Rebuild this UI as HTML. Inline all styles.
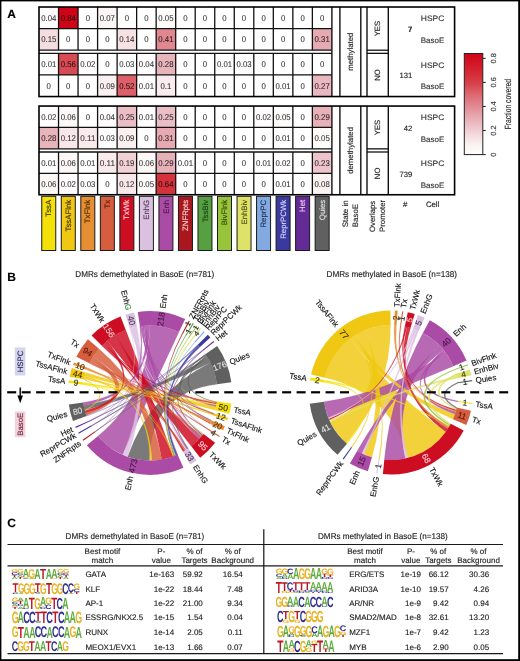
<!DOCTYPE html>
<html><head><meta charset="utf-8"><style>
html,body{margin:0;padding:0;background:#fff;}
svg{display:block;will-change:transform;}
</style></head><body>
<svg width="520" height="661" viewBox="0 0 520 661" font-family='"Liberation Sans", sans-serif' text-rendering="geometricPrecision">
<rect x="0" y="0" width="520" height="661" fill="#000"/>
<rect x="1.4" y="1.4" width="516.8" height="657.8" fill="#fff"/>
<text x="7.3" y="17.6" font-size="12" font-weight="bold" fill="#000" stroke="#000" stroke-width="0.22" stroke-opacity="0.6">A</text>
<rect x="39.00" y="7.00" width="19.53" height="21.60" fill="rgb(254,252,252)"/>
<text x="48.76" y="20.80" font-size="8.4" text-anchor="middle" fill="#000" fill-opacity="0.8" stroke="#000" stroke-opacity="0.35" stroke-width="0.2" textLength="15.20" lengthAdjust="spacingAndGlyphs">0.04</text>
<rect x="58.53" y="7.00" width="19.53" height="21.60" fill="rgb(208,4,24)"/>
<text x="68.29" y="20.80" font-size="8.4" text-anchor="middle" fill="#000" fill-opacity="0.8" stroke="#000" stroke-opacity="0.35" stroke-width="0.2" textLength="15.20" lengthAdjust="spacingAndGlyphs">0.84</text>
<text x="87.82" y="20.80" font-size="8.4" text-anchor="middle" fill="#000" fill-opacity="0.8" stroke="#000" stroke-opacity="0.35" stroke-width="0.2" textLength="4.34" lengthAdjust="spacingAndGlyphs">0</text>
<rect x="97.58" y="7.00" width="19.53" height="21.60" fill="rgb(252,245,246)"/>
<text x="107.34" y="20.80" font-size="8.4" text-anchor="middle" fill="#000" fill-opacity="0.8" stroke="#000" stroke-opacity="0.35" stroke-width="0.2" textLength="15.20" lengthAdjust="spacingAndGlyphs">0.07</text>
<text x="126.87" y="20.80" font-size="8.4" text-anchor="middle" fill="#000" fill-opacity="0.8" stroke="#000" stroke-opacity="0.35" stroke-width="0.2" textLength="4.34" lengthAdjust="spacingAndGlyphs">0</text>
<text x="146.40" y="20.80" font-size="8.4" text-anchor="middle" fill="#000" fill-opacity="0.8" stroke="#000" stroke-opacity="0.35" stroke-width="0.2" textLength="4.34" lengthAdjust="spacingAndGlyphs">0</text>
<rect x="156.16" y="7.00" width="19.53" height="21.60" fill="rgb(254,251,251)"/>
<text x="165.92" y="20.80" font-size="8.4" text-anchor="middle" fill="#000" fill-opacity="0.8" stroke="#000" stroke-opacity="0.35" stroke-width="0.2" textLength="15.20" lengthAdjust="spacingAndGlyphs">0.05</text>
<text x="185.45" y="20.80" font-size="8.4" text-anchor="middle" fill="#000" fill-opacity="0.8" stroke="#000" stroke-opacity="0.35" stroke-width="0.2" textLength="4.34" lengthAdjust="spacingAndGlyphs">0</text>
<text x="204.98" y="20.80" font-size="8.4" text-anchor="middle" fill="#000" fill-opacity="0.8" stroke="#000" stroke-opacity="0.35" stroke-width="0.2" textLength="4.34" lengthAdjust="spacingAndGlyphs">0</text>
<text x="224.50" y="20.80" font-size="8.4" text-anchor="middle" fill="#000" fill-opacity="0.8" stroke="#000" stroke-opacity="0.35" stroke-width="0.2" textLength="4.34" lengthAdjust="spacingAndGlyphs">0</text>
<text x="244.03" y="20.80" font-size="8.4" text-anchor="middle" fill="#000" fill-opacity="0.8" stroke="#000" stroke-opacity="0.35" stroke-width="0.2" textLength="4.34" lengthAdjust="spacingAndGlyphs">0</text>
<text x="263.56" y="20.80" font-size="8.4" text-anchor="middle" fill="#000" fill-opacity="0.8" stroke="#000" stroke-opacity="0.35" stroke-width="0.2" textLength="4.34" lengthAdjust="spacingAndGlyphs">0</text>
<text x="283.08" y="20.80" font-size="8.4" text-anchor="middle" fill="#000" fill-opacity="0.8" stroke="#000" stroke-opacity="0.35" stroke-width="0.2" textLength="4.34" lengthAdjust="spacingAndGlyphs">0</text>
<text x="302.61" y="20.80" font-size="8.4" text-anchor="middle" fill="#000" fill-opacity="0.8" stroke="#000" stroke-opacity="0.35" stroke-width="0.2" textLength="4.34" lengthAdjust="spacingAndGlyphs">0</text>
<text x="322.14" y="20.80" font-size="8.4" text-anchor="middle" fill="#000" fill-opacity="0.8" stroke="#000" stroke-opacity="0.35" stroke-width="0.2" textLength="4.34" lengthAdjust="spacingAndGlyphs">0</text>
<rect x="39.00" y="28.60" width="19.53" height="21.60" fill="rgb(245,222,226)"/>
<text x="48.76" y="42.40" font-size="8.4" text-anchor="middle" fill="#000" fill-opacity="0.8" stroke="#000" stroke-opacity="0.35" stroke-width="0.2" textLength="15.20" lengthAdjust="spacingAndGlyphs">0.15</text>
<text x="68.29" y="42.40" font-size="8.4" text-anchor="middle" fill="#000" fill-opacity="0.8" stroke="#000" stroke-opacity="0.35" stroke-width="0.2" textLength="4.34" lengthAdjust="spacingAndGlyphs">0</text>
<text x="87.82" y="42.40" font-size="8.4" text-anchor="middle" fill="#000" fill-opacity="0.8" stroke="#000" stroke-opacity="0.35" stroke-width="0.2" textLength="4.34" lengthAdjust="spacingAndGlyphs">0</text>
<text x="107.34" y="42.40" font-size="8.4" text-anchor="middle" fill="#000" fill-opacity="0.8" stroke="#000" stroke-opacity="0.35" stroke-width="0.2" textLength="4.34" lengthAdjust="spacingAndGlyphs">0</text>
<rect x="117.11" y="28.60" width="19.53" height="21.60" fill="rgb(246,225,228)"/>
<text x="126.87" y="42.40" font-size="8.4" text-anchor="middle" fill="#000" fill-opacity="0.8" stroke="#000" stroke-opacity="0.35" stroke-width="0.2" textLength="15.20" lengthAdjust="spacingAndGlyphs">0.14</text>
<text x="146.40" y="42.40" font-size="8.4" text-anchor="middle" fill="#000" fill-opacity="0.8" stroke="#000" stroke-opacity="0.35" stroke-width="0.2" textLength="4.34" lengthAdjust="spacingAndGlyphs">0</text>
<rect x="156.16" y="28.60" width="19.53" height="21.60" fill="rgb(225,135,145)"/>
<text x="165.92" y="42.40" font-size="8.4" text-anchor="middle" fill="#000" fill-opacity="0.8" stroke="#000" stroke-opacity="0.35" stroke-width="0.2" textLength="15.20" lengthAdjust="spacingAndGlyphs">0.41</text>
<text x="185.45" y="42.40" font-size="8.4" text-anchor="middle" fill="#000" fill-opacity="0.8" stroke="#000" stroke-opacity="0.35" stroke-width="0.2" textLength="4.34" lengthAdjust="spacingAndGlyphs">0</text>
<text x="204.98" y="42.40" font-size="8.4" text-anchor="middle" fill="#000" fill-opacity="0.8" stroke="#000" stroke-opacity="0.35" stroke-width="0.2" textLength="4.34" lengthAdjust="spacingAndGlyphs">0</text>
<text x="224.50" y="42.40" font-size="8.4" text-anchor="middle" fill="#000" fill-opacity="0.8" stroke="#000" stroke-opacity="0.35" stroke-width="0.2" textLength="4.34" lengthAdjust="spacingAndGlyphs">0</text>
<text x="244.03" y="42.40" font-size="8.4" text-anchor="middle" fill="#000" fill-opacity="0.8" stroke="#000" stroke-opacity="0.35" stroke-width="0.2" textLength="4.34" lengthAdjust="spacingAndGlyphs">0</text>
<text x="263.56" y="42.40" font-size="8.4" text-anchor="middle" fill="#000" fill-opacity="0.8" stroke="#000" stroke-opacity="0.35" stroke-width="0.2" textLength="4.34" lengthAdjust="spacingAndGlyphs">0</text>
<text x="283.08" y="42.40" font-size="8.4" text-anchor="middle" fill="#000" fill-opacity="0.8" stroke="#000" stroke-opacity="0.35" stroke-width="0.2" textLength="4.34" lengthAdjust="spacingAndGlyphs">0</text>
<text x="302.61" y="42.40" font-size="8.4" text-anchor="middle" fill="#000" fill-opacity="0.8" stroke="#000" stroke-opacity="0.35" stroke-width="0.2" textLength="4.34" lengthAdjust="spacingAndGlyphs">0</text>
<rect x="312.37" y="28.60" width="19.53" height="21.60" fill="rgb(230,170,178)"/>
<text x="322.14" y="42.40" font-size="8.4" text-anchor="middle" fill="#000" fill-opacity="0.8" stroke="#000" stroke-opacity="0.35" stroke-width="0.2" textLength="15.20" lengthAdjust="spacingAndGlyphs">0.31</text>
<rect x="39.00" y="53.35" width="19.53" height="21.60" fill="rgb(255,254,254)"/>
<text x="48.76" y="67.15" font-size="8.4" text-anchor="middle" fill="#000" fill-opacity="0.8" stroke="#000" stroke-opacity="0.35" stroke-width="0.2" textLength="15.20" lengthAdjust="spacingAndGlyphs">0.01</text>
<rect x="58.53" y="53.35" width="19.53" height="21.60" fill="rgb(216,75,85)"/>
<text x="68.29" y="67.15" font-size="8.4" text-anchor="middle" fill="#000" fill-opacity="0.8" stroke="#000" stroke-opacity="0.35" stroke-width="0.2" textLength="15.20" lengthAdjust="spacingAndGlyphs">0.56</text>
<rect x="78.05" y="53.35" width="19.53" height="21.60" fill="rgb(255,253,253)"/>
<text x="87.82" y="67.15" font-size="8.4" text-anchor="middle" fill="#000" fill-opacity="0.8" stroke="#000" stroke-opacity="0.35" stroke-width="0.2" textLength="15.20" lengthAdjust="spacingAndGlyphs">0.02</text>
<text x="107.34" y="67.15" font-size="8.4" text-anchor="middle" fill="#000" fill-opacity="0.8" stroke="#000" stroke-opacity="0.35" stroke-width="0.2" textLength="4.34" lengthAdjust="spacingAndGlyphs">0</text>
<rect x="117.11" y="53.35" width="19.53" height="21.60" fill="rgb(254,253,253)"/>
<text x="126.87" y="67.15" font-size="8.4" text-anchor="middle" fill="#000" fill-opacity="0.8" stroke="#000" stroke-opacity="0.35" stroke-width="0.2" textLength="15.20" lengthAdjust="spacingAndGlyphs">0.03</text>
<rect x="136.63" y="53.35" width="19.53" height="21.60" fill="rgb(254,252,252)"/>
<text x="146.40" y="67.15" font-size="8.4" text-anchor="middle" fill="#000" fill-opacity="0.8" stroke="#000" stroke-opacity="0.35" stroke-width="0.2" textLength="15.20" lengthAdjust="spacingAndGlyphs">0.04</text>
<rect x="156.16" y="53.35" width="19.53" height="21.60" fill="rgb(232,180,188)"/>
<text x="165.92" y="67.15" font-size="8.4" text-anchor="middle" fill="#000" fill-opacity="0.8" stroke="#000" stroke-opacity="0.35" stroke-width="0.2" textLength="15.20" lengthAdjust="spacingAndGlyphs">0.28</text>
<text x="185.45" y="67.15" font-size="8.4" text-anchor="middle" fill="#000" fill-opacity="0.8" stroke="#000" stroke-opacity="0.35" stroke-width="0.2" textLength="4.34" lengthAdjust="spacingAndGlyphs">0</text>
<text x="204.98" y="67.15" font-size="8.4" text-anchor="middle" fill="#000" fill-opacity="0.8" stroke="#000" stroke-opacity="0.35" stroke-width="0.2" textLength="4.34" lengthAdjust="spacingAndGlyphs">0</text>
<rect x="214.74" y="53.35" width="19.53" height="21.60" fill="rgb(255,254,254)"/>
<text x="224.50" y="67.15" font-size="8.4" text-anchor="middle" fill="#000" fill-opacity="0.8" stroke="#000" stroke-opacity="0.35" stroke-width="0.2" textLength="15.20" lengthAdjust="spacingAndGlyphs">0.01</text>
<rect x="234.27" y="53.35" width="19.53" height="21.60" fill="rgb(254,253,253)"/>
<text x="244.03" y="67.15" font-size="8.4" text-anchor="middle" fill="#000" fill-opacity="0.8" stroke="#000" stroke-opacity="0.35" stroke-width="0.2" textLength="15.20" lengthAdjust="spacingAndGlyphs">0.03</text>
<text x="263.56" y="67.15" font-size="8.4" text-anchor="middle" fill="#000" fill-opacity="0.8" stroke="#000" stroke-opacity="0.35" stroke-width="0.2" textLength="4.34" lengthAdjust="spacingAndGlyphs">0</text>
<text x="283.08" y="67.15" font-size="8.4" text-anchor="middle" fill="#000" fill-opacity="0.8" stroke="#000" stroke-opacity="0.35" stroke-width="0.2" textLength="4.34" lengthAdjust="spacingAndGlyphs">0</text>
<text x="302.61" y="67.15" font-size="8.4" text-anchor="middle" fill="#000" fill-opacity="0.8" stroke="#000" stroke-opacity="0.35" stroke-width="0.2" textLength="4.34" lengthAdjust="spacingAndGlyphs">0</text>
<text x="322.14" y="67.15" font-size="8.4" text-anchor="middle" fill="#000" fill-opacity="0.8" stroke="#000" stroke-opacity="0.35" stroke-width="0.2" textLength="4.34" lengthAdjust="spacingAndGlyphs">0</text>
<text x="48.76" y="88.75" font-size="8.4" text-anchor="middle" fill="#000" fill-opacity="0.8" stroke="#000" stroke-opacity="0.35" stroke-width="0.2" textLength="4.34" lengthAdjust="spacingAndGlyphs">0</text>
<text x="68.29" y="88.75" font-size="8.4" text-anchor="middle" fill="#000" fill-opacity="0.8" stroke="#000" stroke-opacity="0.35" stroke-width="0.2" textLength="4.34" lengthAdjust="spacingAndGlyphs">0</text>
<text x="87.82" y="88.75" font-size="8.4" text-anchor="middle" fill="#000" fill-opacity="0.8" stroke="#000" stroke-opacity="0.35" stroke-width="0.2" textLength="4.34" lengthAdjust="spacingAndGlyphs">0</text>
<rect x="97.58" y="74.95" width="19.53" height="21.60" fill="rgb(250,239,241)"/>
<text x="107.34" y="88.75" font-size="8.4" text-anchor="middle" fill="#000" fill-opacity="0.8" stroke="#000" stroke-opacity="0.35" stroke-width="0.2" textLength="15.20" lengthAdjust="spacingAndGlyphs">0.09</text>
<rect x="117.11" y="74.95" width="19.53" height="21.60" fill="rgb(220,95,105)"/>
<text x="126.87" y="88.75" font-size="8.4" text-anchor="middle" fill="#000" fill-opacity="0.8" stroke="#000" stroke-opacity="0.35" stroke-width="0.2" textLength="15.20" lengthAdjust="spacingAndGlyphs">0.52</text>
<rect x="136.63" y="74.95" width="19.53" height="21.60" fill="rgb(255,254,254)"/>
<text x="146.40" y="88.75" font-size="8.4" text-anchor="middle" fill="#000" fill-opacity="0.8" stroke="#000" stroke-opacity="0.35" stroke-width="0.2" textLength="15.20" lengthAdjust="spacingAndGlyphs">0.01</text>
<rect x="156.16" y="74.95" width="19.53" height="21.60" fill="rgb(250,236,238)"/>
<text x="165.92" y="88.75" font-size="8.4" text-anchor="middle" fill="#000" fill-opacity="0.8" stroke="#000" stroke-opacity="0.35" stroke-width="0.2" textLength="10.86" lengthAdjust="spacingAndGlyphs">0.1</text>
<text x="185.45" y="88.75" font-size="8.4" text-anchor="middle" fill="#000" fill-opacity="0.8" stroke="#000" stroke-opacity="0.35" stroke-width="0.2" textLength="4.34" lengthAdjust="spacingAndGlyphs">0</text>
<text x="204.98" y="88.75" font-size="8.4" text-anchor="middle" fill="#000" fill-opacity="0.8" stroke="#000" stroke-opacity="0.35" stroke-width="0.2" textLength="4.34" lengthAdjust="spacingAndGlyphs">0</text>
<text x="224.50" y="88.75" font-size="8.4" text-anchor="middle" fill="#000" fill-opacity="0.8" stroke="#000" stroke-opacity="0.35" stroke-width="0.2" textLength="4.34" lengthAdjust="spacingAndGlyphs">0</text>
<text x="244.03" y="88.75" font-size="8.4" text-anchor="middle" fill="#000" fill-opacity="0.8" stroke="#000" stroke-opacity="0.35" stroke-width="0.2" textLength="4.34" lengthAdjust="spacingAndGlyphs">0</text>
<text x="263.56" y="88.75" font-size="8.4" text-anchor="middle" fill="#000" fill-opacity="0.8" stroke="#000" stroke-opacity="0.35" stroke-width="0.2" textLength="4.34" lengthAdjust="spacingAndGlyphs">0</text>
<rect x="273.32" y="74.95" width="19.53" height="21.60" fill="rgb(255,254,254)"/>
<text x="283.08" y="88.75" font-size="8.4" text-anchor="middle" fill="#000" fill-opacity="0.8" stroke="#000" stroke-opacity="0.35" stroke-width="0.2" textLength="15.20" lengthAdjust="spacingAndGlyphs">0.01</text>
<text x="302.61" y="88.75" font-size="8.4" text-anchor="middle" fill="#000" fill-opacity="0.8" stroke="#000" stroke-opacity="0.35" stroke-width="0.2" textLength="4.34" lengthAdjust="spacingAndGlyphs">0</text>
<rect x="312.37" y="74.95" width="19.53" height="21.60" fill="rgb(233,183,191)"/>
<text x="322.14" y="88.75" font-size="8.4" text-anchor="middle" fill="#000" fill-opacity="0.8" stroke="#000" stroke-opacity="0.35" stroke-width="0.2" textLength="15.20" lengthAdjust="spacingAndGlyphs">0.27</text>
<rect x="39.00" y="50.20" width="292.90" height="3.15" fill="#fff"/>
<rect x="367.00" y="50.20" width="21.30" height="3.15" fill="#fff"/>
<line x1="58.53" y1="7.00" x2="58.53" y2="50.20" stroke="#111" stroke-width="1.3"/>
<line x1="58.53" y1="53.35" x2="58.53" y2="96.55" stroke="#111" stroke-width="1.3"/>
<line x1="78.05" y1="7.00" x2="78.05" y2="50.20" stroke="#111" stroke-width="1.3"/>
<line x1="78.05" y1="53.35" x2="78.05" y2="96.55" stroke="#111" stroke-width="1.3"/>
<line x1="97.58" y1="7.00" x2="97.58" y2="50.20" stroke="#111" stroke-width="1.3"/>
<line x1="97.58" y1="53.35" x2="97.58" y2="96.55" stroke="#111" stroke-width="1.3"/>
<line x1="117.11" y1="7.00" x2="117.11" y2="50.20" stroke="#111" stroke-width="1.3"/>
<line x1="117.11" y1="53.35" x2="117.11" y2="96.55" stroke="#111" stroke-width="1.3"/>
<line x1="136.63" y1="7.00" x2="136.63" y2="50.20" stroke="#111" stroke-width="1.3"/>
<line x1="136.63" y1="53.35" x2="136.63" y2="96.55" stroke="#111" stroke-width="1.3"/>
<line x1="156.16" y1="7.00" x2="156.16" y2="50.20" stroke="#111" stroke-width="1.3"/>
<line x1="156.16" y1="53.35" x2="156.16" y2="96.55" stroke="#111" stroke-width="1.3"/>
<line x1="175.69" y1="7.00" x2="175.69" y2="50.20" stroke="#111" stroke-width="1.3"/>
<line x1="175.69" y1="53.35" x2="175.69" y2="96.55" stroke="#111" stroke-width="1.3"/>
<line x1="195.21" y1="7.00" x2="195.21" y2="50.20" stroke="#111" stroke-width="1.3"/>
<line x1="195.21" y1="53.35" x2="195.21" y2="96.55" stroke="#111" stroke-width="1.3"/>
<line x1="214.74" y1="7.00" x2="214.74" y2="50.20" stroke="#111" stroke-width="1.3"/>
<line x1="214.74" y1="53.35" x2="214.74" y2="96.55" stroke="#111" stroke-width="1.3"/>
<line x1="234.27" y1="7.00" x2="234.27" y2="50.20" stroke="#111" stroke-width="1.3"/>
<line x1="234.27" y1="53.35" x2="234.27" y2="96.55" stroke="#111" stroke-width="1.3"/>
<line x1="253.79" y1="7.00" x2="253.79" y2="50.20" stroke="#111" stroke-width="1.3"/>
<line x1="253.79" y1="53.35" x2="253.79" y2="96.55" stroke="#111" stroke-width="1.3"/>
<line x1="273.32" y1="7.00" x2="273.32" y2="50.20" stroke="#111" stroke-width="1.3"/>
<line x1="273.32" y1="53.35" x2="273.32" y2="96.55" stroke="#111" stroke-width="1.3"/>
<line x1="292.85" y1="7.00" x2="292.85" y2="50.20" stroke="#111" stroke-width="1.3"/>
<line x1="292.85" y1="53.35" x2="292.85" y2="96.55" stroke="#111" stroke-width="1.3"/>
<line x1="312.37" y1="7.00" x2="312.37" y2="50.20" stroke="#111" stroke-width="1.3"/>
<line x1="312.37" y1="53.35" x2="312.37" y2="96.55" stroke="#111" stroke-width="1.3"/>
<line x1="39.00" y1="28.60" x2="331.90" y2="28.60" stroke="#111" stroke-width="1.3"/>
<line x1="39.00" y1="50.20" x2="331.90" y2="50.20" stroke="#111" stroke-width="1.3"/>
<line x1="39.00" y1="53.35" x2="331.90" y2="53.35" stroke="#111" stroke-width="1.3"/>
<line x1="39.00" y1="74.95" x2="331.90" y2="74.95" stroke="#111" stroke-width="1.3"/>
<line x1="367.00" y1="50.20" x2="388.30" y2="50.20" stroke="#111" stroke-width="1.3"/>
<line x1="367.00" y1="53.35" x2="388.30" y2="53.35" stroke="#111" stroke-width="1.3"/>
<line x1="331.90" y1="7.00" x2="331.90" y2="96.55" stroke="#111" stroke-width="1.4"/>
<line x1="339.90" y1="7.00" x2="339.90" y2="96.55" stroke="#111" stroke-width="1.4"/>
<line x1="360.80" y1="7.00" x2="360.80" y2="96.55" stroke="#111" stroke-width="1.4"/>
<line x1="367.00" y1="7.00" x2="367.00" y2="96.55" stroke="#111" stroke-width="1.4"/>
<line x1="388.30" y1="7.00" x2="388.30" y2="96.55" stroke="#111" stroke-width="1.4"/>
<rect x="39.00" y="7.00" width="415.60" height="89.55" fill="none" stroke="#000" stroke-width="1.6"/>
<text transform="translate(352.95,51.77) rotate(-90)" font-size="7.8" text-anchor="middle" fill="#222" stroke="#222" stroke-width="0.22" stroke-opacity="0.6">methylated</text>
<text transform="translate(380.45,28.60) rotate(-90)" font-size="7.7" text-anchor="middle" fill="#222" stroke="#222" stroke-width="0.22" stroke-opacity="0.6">YES</text>
<text transform="translate(380.45,74.95) rotate(-90)" font-size="7.7" text-anchor="middle" fill="#222" stroke="#222" stroke-width="0.22" stroke-opacity="0.6">NO</text>
<text x="412.3" y="31.80" font-size="7.7" text-anchor="end" fill="#222" font-weight="bold" stroke="#222" stroke-width="0.22" stroke-opacity="0.6">7</text>
<text x="412.3" y="78.15" font-size="7.7" text-anchor="end" fill="#222" stroke="#222" stroke-width="0.22" stroke-opacity="0.6">131</text>
<text x="420.8" y="21.40" font-size="7.9" fill="#333" textLength="23.5" lengthAdjust="spacingAndGlyphs" stroke="#333" stroke-width="0.22" stroke-opacity="0.6">HSPC</text>
<text x="420.8" y="43.00" font-size="7.9" fill="#333" textLength="23.5" lengthAdjust="spacingAndGlyphs" stroke="#333" stroke-width="0.22" stroke-opacity="0.6">BasoE</text>
<text x="420.8" y="67.75" font-size="7.9" fill="#333" textLength="23.5" lengthAdjust="spacingAndGlyphs" stroke="#333" stroke-width="0.22" stroke-opacity="0.6">HSPC</text>
<text x="420.8" y="89.35" font-size="7.9" fill="#333" textLength="23.5" lengthAdjust="spacingAndGlyphs" stroke="#333" stroke-width="0.22" stroke-opacity="0.6">BasoE</text>
<rect x="39.00" y="106.05" width="19.53" height="21.40" fill="rgb(255,253,253)"/>
<text x="48.76" y="119.75" font-size="8.4" text-anchor="middle" fill="#000" fill-opacity="0.8" stroke="#000" stroke-opacity="0.35" stroke-width="0.2" textLength="15.20" lengthAdjust="spacingAndGlyphs">0.02</text>
<rect x="58.53" y="106.05" width="19.53" height="21.40" fill="rgb(253,248,248)"/>
<text x="68.29" y="119.75" font-size="8.4" text-anchor="middle" fill="#000" fill-opacity="0.8" stroke="#000" stroke-opacity="0.35" stroke-width="0.2" textLength="15.20" lengthAdjust="spacingAndGlyphs">0.06</text>
<text x="87.82" y="119.75" font-size="8.4" text-anchor="middle" fill="#000" fill-opacity="0.8" stroke="#000" stroke-opacity="0.35" stroke-width="0.2" textLength="4.34" lengthAdjust="spacingAndGlyphs">0</text>
<rect x="97.58" y="106.05" width="19.53" height="21.40" fill="rgb(254,252,252)"/>
<text x="107.34" y="119.75" font-size="8.4" text-anchor="middle" fill="#000" fill-opacity="0.8" stroke="#000" stroke-opacity="0.35" stroke-width="0.2" textLength="15.20" lengthAdjust="spacingAndGlyphs">0.04</text>
<rect x="117.11" y="106.05" width="19.53" height="21.40" fill="rgb(235,190,197)"/>
<text x="126.87" y="119.75" font-size="8.4" text-anchor="middle" fill="#000" fill-opacity="0.8" stroke="#000" stroke-opacity="0.35" stroke-width="0.2" textLength="15.20" lengthAdjust="spacingAndGlyphs">0.25</text>
<rect x="136.63" y="106.05" width="19.53" height="21.40" fill="rgb(255,254,254)"/>
<text x="146.40" y="119.75" font-size="8.4" text-anchor="middle" fill="#000" fill-opacity="0.8" stroke="#000" stroke-opacity="0.35" stroke-width="0.2" textLength="15.20" lengthAdjust="spacingAndGlyphs">0.01</text>
<rect x="156.16" y="106.05" width="19.53" height="21.40" fill="rgb(235,190,197)"/>
<text x="165.92" y="119.75" font-size="8.4" text-anchor="middle" fill="#000" fill-opacity="0.8" stroke="#000" stroke-opacity="0.35" stroke-width="0.2" textLength="15.20" lengthAdjust="spacingAndGlyphs">0.25</text>
<text x="185.45" y="119.75" font-size="8.4" text-anchor="middle" fill="#000" fill-opacity="0.8" stroke="#000" stroke-opacity="0.35" stroke-width="0.2" textLength="4.34" lengthAdjust="spacingAndGlyphs">0</text>
<text x="204.98" y="119.75" font-size="8.4" text-anchor="middle" fill="#000" fill-opacity="0.8" stroke="#000" stroke-opacity="0.35" stroke-width="0.2" textLength="4.34" lengthAdjust="spacingAndGlyphs">0</text>
<text x="224.50" y="119.75" font-size="8.4" text-anchor="middle" fill="#000" fill-opacity="0.8" stroke="#000" stroke-opacity="0.35" stroke-width="0.2" textLength="4.34" lengthAdjust="spacingAndGlyphs">0</text>
<text x="244.03" y="119.75" font-size="8.4" text-anchor="middle" fill="#000" fill-opacity="0.8" stroke="#000" stroke-opacity="0.35" stroke-width="0.2" textLength="4.34" lengthAdjust="spacingAndGlyphs">0</text>
<rect x="253.79" y="106.05" width="19.53" height="21.40" fill="rgb(255,253,253)"/>
<text x="263.56" y="119.75" font-size="8.4" text-anchor="middle" fill="#000" fill-opacity="0.8" stroke="#000" stroke-opacity="0.35" stroke-width="0.2" textLength="15.20" lengthAdjust="spacingAndGlyphs">0.02</text>
<rect x="273.32" y="106.05" width="19.53" height="21.40" fill="rgb(254,251,251)"/>
<text x="283.08" y="119.75" font-size="8.4" text-anchor="middle" fill="#000" fill-opacity="0.8" stroke="#000" stroke-opacity="0.35" stroke-width="0.2" textLength="15.20" lengthAdjust="spacingAndGlyphs">0.05</text>
<text x="302.61" y="119.75" font-size="8.4" text-anchor="middle" fill="#000" fill-opacity="0.8" stroke="#000" stroke-opacity="0.35" stroke-width="0.2" textLength="4.34" lengthAdjust="spacingAndGlyphs">0</text>
<rect x="312.37" y="106.05" width="19.53" height="21.40" fill="rgb(231,177,185)"/>
<text x="322.14" y="119.75" font-size="8.4" text-anchor="middle" fill="#000" fill-opacity="0.8" stroke="#000" stroke-opacity="0.35" stroke-width="0.2" textLength="15.20" lengthAdjust="spacingAndGlyphs">0.29</text>
<rect x="39.00" y="127.45" width="19.53" height="21.40" fill="rgb(232,180,188)"/>
<text x="48.76" y="141.15" font-size="8.4" text-anchor="middle" fill="#000" fill-opacity="0.8" stroke="#000" stroke-opacity="0.35" stroke-width="0.2" textLength="15.20" lengthAdjust="spacingAndGlyphs">0.28</text>
<rect x="58.53" y="127.45" width="19.53" height="21.40" fill="rgb(248,231,234)"/>
<text x="68.29" y="141.15" font-size="8.4" text-anchor="middle" fill="#000" fill-opacity="0.8" stroke="#000" stroke-opacity="0.35" stroke-width="0.2" textLength="15.20" lengthAdjust="spacingAndGlyphs">0.12</text>
<rect x="78.05" y="127.45" width="19.53" height="21.40" fill="rgb(249,234,236)"/>
<text x="87.82" y="141.15" font-size="8.4" text-anchor="middle" fill="#000" fill-opacity="0.8" stroke="#000" stroke-opacity="0.35" stroke-width="0.2" textLength="15.20" lengthAdjust="spacingAndGlyphs">0.11</text>
<rect x="97.58" y="127.45" width="19.53" height="21.40" fill="rgb(254,253,253)"/>
<text x="107.34" y="141.15" font-size="8.4" text-anchor="middle" fill="#000" fill-opacity="0.8" stroke="#000" stroke-opacity="0.35" stroke-width="0.2" textLength="15.20" lengthAdjust="spacingAndGlyphs">0.03</text>
<rect x="117.11" y="127.45" width="19.53" height="21.40" fill="rgb(250,239,241)"/>
<text x="126.87" y="141.15" font-size="8.4" text-anchor="middle" fill="#000" fill-opacity="0.8" stroke="#000" stroke-opacity="0.35" stroke-width="0.2" textLength="15.20" lengthAdjust="spacingAndGlyphs">0.09</text>
<text x="146.40" y="141.15" font-size="8.4" text-anchor="middle" fill="#000" fill-opacity="0.8" stroke="#000" stroke-opacity="0.35" stroke-width="0.2" textLength="4.34" lengthAdjust="spacingAndGlyphs">0</text>
<rect x="156.16" y="127.45" width="19.53" height="21.40" fill="rgb(230,170,178)"/>
<text x="165.92" y="141.15" font-size="8.4" text-anchor="middle" fill="#000" fill-opacity="0.8" stroke="#000" stroke-opacity="0.35" stroke-width="0.2" textLength="15.20" lengthAdjust="spacingAndGlyphs">0.31</text>
<text x="185.45" y="141.15" font-size="8.4" text-anchor="middle" fill="#000" fill-opacity="0.8" stroke="#000" stroke-opacity="0.35" stroke-width="0.2" textLength="4.34" lengthAdjust="spacingAndGlyphs">0</text>
<text x="204.98" y="141.15" font-size="8.4" text-anchor="middle" fill="#000" fill-opacity="0.8" stroke="#000" stroke-opacity="0.35" stroke-width="0.2" textLength="4.34" lengthAdjust="spacingAndGlyphs">0</text>
<text x="224.50" y="141.15" font-size="8.4" text-anchor="middle" fill="#000" fill-opacity="0.8" stroke="#000" stroke-opacity="0.35" stroke-width="0.2" textLength="4.34" lengthAdjust="spacingAndGlyphs">0</text>
<text x="244.03" y="141.15" font-size="8.4" text-anchor="middle" fill="#000" fill-opacity="0.8" stroke="#000" stroke-opacity="0.35" stroke-width="0.2" textLength="4.34" lengthAdjust="spacingAndGlyphs">0</text>
<text x="263.56" y="141.15" font-size="8.4" text-anchor="middle" fill="#000" fill-opacity="0.8" stroke="#000" stroke-opacity="0.35" stroke-width="0.2" textLength="4.34" lengthAdjust="spacingAndGlyphs">0</text>
<rect x="273.32" y="127.45" width="19.53" height="21.40" fill="rgb(255,254,254)"/>
<text x="283.08" y="141.15" font-size="8.4" text-anchor="middle" fill="#000" fill-opacity="0.8" stroke="#000" stroke-opacity="0.35" stroke-width="0.2" textLength="15.20" lengthAdjust="spacingAndGlyphs">0.01</text>
<text x="302.61" y="141.15" font-size="8.4" text-anchor="middle" fill="#000" fill-opacity="0.8" stroke="#000" stroke-opacity="0.35" stroke-width="0.2" textLength="4.34" lengthAdjust="spacingAndGlyphs">0</text>
<rect x="312.37" y="127.45" width="19.53" height="21.40" fill="rgb(254,251,251)"/>
<text x="322.14" y="141.15" font-size="8.4" text-anchor="middle" fill="#000" fill-opacity="0.8" stroke="#000" stroke-opacity="0.35" stroke-width="0.2" textLength="15.20" lengthAdjust="spacingAndGlyphs">0.05</text>
<rect x="39.00" y="152.00" width="19.53" height="21.40" fill="rgb(255,254,254)"/>
<text x="48.76" y="165.70" font-size="8.4" text-anchor="middle" fill="#000" fill-opacity="0.8" stroke="#000" stroke-opacity="0.35" stroke-width="0.2" textLength="15.20" lengthAdjust="spacingAndGlyphs">0.01</text>
<rect x="58.53" y="152.00" width="19.53" height="21.40" fill="rgb(253,248,248)"/>
<text x="68.29" y="165.70" font-size="8.4" text-anchor="middle" fill="#000" fill-opacity="0.8" stroke="#000" stroke-opacity="0.35" stroke-width="0.2" textLength="15.20" lengthAdjust="spacingAndGlyphs">0.06</text>
<rect x="78.05" y="152.00" width="19.53" height="21.40" fill="rgb(255,254,254)"/>
<text x="87.82" y="165.70" font-size="8.4" text-anchor="middle" fill="#000" fill-opacity="0.8" stroke="#000" stroke-opacity="0.35" stroke-width="0.2" textLength="15.20" lengthAdjust="spacingAndGlyphs">0.01</text>
<rect x="97.58" y="152.00" width="19.53" height="21.40" fill="rgb(249,234,236)"/>
<text x="107.34" y="165.70" font-size="8.4" text-anchor="middle" fill="#000" fill-opacity="0.8" stroke="#000" stroke-opacity="0.35" stroke-width="0.2" textLength="15.20" lengthAdjust="spacingAndGlyphs">0.11</text>
<rect x="117.11" y="152.00" width="19.53" height="21.40" fill="rgb(241,209,214)"/>
<text x="126.87" y="165.70" font-size="8.4" text-anchor="middle" fill="#000" fill-opacity="0.8" stroke="#000" stroke-opacity="0.35" stroke-width="0.2" textLength="15.20" lengthAdjust="spacingAndGlyphs">0.19</text>
<rect x="136.63" y="152.00" width="19.53" height="21.40" fill="rgb(253,248,248)"/>
<text x="146.40" y="165.70" font-size="8.4" text-anchor="middle" fill="#000" fill-opacity="0.8" stroke="#000" stroke-opacity="0.35" stroke-width="0.2" textLength="15.20" lengthAdjust="spacingAndGlyphs">0.06</text>
<rect x="156.16" y="152.00" width="19.53" height="21.40" fill="rgb(231,177,185)"/>
<text x="165.92" y="165.70" font-size="8.4" text-anchor="middle" fill="#000" fill-opacity="0.8" stroke="#000" stroke-opacity="0.35" stroke-width="0.2" textLength="15.20" lengthAdjust="spacingAndGlyphs">0.29</text>
<rect x="175.69" y="152.00" width="19.53" height="21.40" fill="rgb(255,254,254)"/>
<text x="185.45" y="165.70" font-size="8.4" text-anchor="middle" fill="#000" fill-opacity="0.8" stroke="#000" stroke-opacity="0.35" stroke-width="0.2" textLength="15.20" lengthAdjust="spacingAndGlyphs">0.01</text>
<text x="204.98" y="165.70" font-size="8.4" text-anchor="middle" fill="#000" fill-opacity="0.8" stroke="#000" stroke-opacity="0.35" stroke-width="0.2" textLength="4.34" lengthAdjust="spacingAndGlyphs">0</text>
<text x="224.50" y="165.70" font-size="8.4" text-anchor="middle" fill="#000" fill-opacity="0.8" stroke="#000" stroke-opacity="0.35" stroke-width="0.2" textLength="4.34" lengthAdjust="spacingAndGlyphs">0</text>
<text x="244.03" y="165.70" font-size="8.4" text-anchor="middle" fill="#000" fill-opacity="0.8" stroke="#000" stroke-opacity="0.35" stroke-width="0.2" textLength="4.34" lengthAdjust="spacingAndGlyphs">0</text>
<rect x="253.79" y="152.00" width="19.53" height="21.40" fill="rgb(255,254,254)"/>
<text x="263.56" y="165.70" font-size="8.4" text-anchor="middle" fill="#000" fill-opacity="0.8" stroke="#000" stroke-opacity="0.35" stroke-width="0.2" textLength="15.20" lengthAdjust="spacingAndGlyphs">0.01</text>
<rect x="273.32" y="152.00" width="19.53" height="21.40" fill="rgb(255,253,253)"/>
<text x="283.08" y="165.70" font-size="8.4" text-anchor="middle" fill="#000" fill-opacity="0.8" stroke="#000" stroke-opacity="0.35" stroke-width="0.2" textLength="15.20" lengthAdjust="spacingAndGlyphs">0.02</text>
<text x="302.61" y="165.70" font-size="8.4" text-anchor="middle" fill="#000" fill-opacity="0.8" stroke="#000" stroke-opacity="0.35" stroke-width="0.2" textLength="4.34" lengthAdjust="spacingAndGlyphs">0</text>
<rect x="312.37" y="152.00" width="19.53" height="21.40" fill="rgb(237,196,203)"/>
<text x="322.14" y="165.70" font-size="8.4" text-anchor="middle" fill="#000" fill-opacity="0.8" stroke="#000" stroke-opacity="0.35" stroke-width="0.2" textLength="15.20" lengthAdjust="spacingAndGlyphs">0.23</text>
<rect x="39.00" y="173.40" width="19.53" height="21.35" fill="rgb(253,248,248)"/>
<text x="48.76" y="187.07" font-size="8.4" text-anchor="middle" fill="#000" fill-opacity="0.8" stroke="#000" stroke-opacity="0.35" stroke-width="0.2" textLength="15.20" lengthAdjust="spacingAndGlyphs">0.06</text>
<rect x="58.53" y="173.40" width="19.53" height="21.35" fill="rgb(255,253,253)"/>
<text x="68.29" y="187.07" font-size="8.4" text-anchor="middle" fill="#000" fill-opacity="0.8" stroke="#000" stroke-opacity="0.35" stroke-width="0.2" textLength="15.20" lengthAdjust="spacingAndGlyphs">0.02</text>
<rect x="78.05" y="173.40" width="19.53" height="21.35" fill="rgb(254,253,253)"/>
<text x="87.82" y="187.07" font-size="8.4" text-anchor="middle" fill="#000" fill-opacity="0.8" stroke="#000" stroke-opacity="0.35" stroke-width="0.2" textLength="15.20" lengthAdjust="spacingAndGlyphs">0.03</text>
<text x="107.34" y="187.07" font-size="8.4" text-anchor="middle" fill="#000" fill-opacity="0.8" stroke="#000" stroke-opacity="0.35" stroke-width="0.2" textLength="4.34" lengthAdjust="spacingAndGlyphs">0</text>
<rect x="117.11" y="173.40" width="19.53" height="21.35" fill="rgb(248,231,234)"/>
<text x="126.87" y="187.07" font-size="8.4" text-anchor="middle" fill="#000" fill-opacity="0.8" stroke="#000" stroke-opacity="0.35" stroke-width="0.2" textLength="15.20" lengthAdjust="spacingAndGlyphs">0.12</text>
<rect x="136.63" y="173.40" width="19.53" height="21.35" fill="rgb(254,251,251)"/>
<text x="146.40" y="187.07" font-size="8.4" text-anchor="middle" fill="#000" fill-opacity="0.8" stroke="#000" stroke-opacity="0.35" stroke-width="0.2" textLength="15.20" lengthAdjust="spacingAndGlyphs">0.05</text>
<rect x="156.16" y="173.40" width="19.53" height="21.35" fill="rgb(214,50,60)"/>
<text x="165.92" y="187.07" font-size="8.4" text-anchor="middle" fill="#000" fill-opacity="0.8" stroke="#000" stroke-opacity="0.35" stroke-width="0.2" textLength="15.20" lengthAdjust="spacingAndGlyphs">0.64</text>
<text x="185.45" y="187.07" font-size="8.4" text-anchor="middle" fill="#000" fill-opacity="0.8" stroke="#000" stroke-opacity="0.35" stroke-width="0.2" textLength="4.34" lengthAdjust="spacingAndGlyphs">0</text>
<text x="204.98" y="187.07" font-size="8.4" text-anchor="middle" fill="#000" fill-opacity="0.8" stroke="#000" stroke-opacity="0.35" stroke-width="0.2" textLength="4.34" lengthAdjust="spacingAndGlyphs">0</text>
<text x="224.50" y="187.07" font-size="8.4" text-anchor="middle" fill="#000" fill-opacity="0.8" stroke="#000" stroke-opacity="0.35" stroke-width="0.2" textLength="4.34" lengthAdjust="spacingAndGlyphs">0</text>
<text x="244.03" y="187.07" font-size="8.4" text-anchor="middle" fill="#000" fill-opacity="0.8" stroke="#000" stroke-opacity="0.35" stroke-width="0.2" textLength="4.34" lengthAdjust="spacingAndGlyphs">0</text>
<text x="263.56" y="187.07" font-size="8.4" text-anchor="middle" fill="#000" fill-opacity="0.8" stroke="#000" stroke-opacity="0.35" stroke-width="0.2" textLength="4.34" lengthAdjust="spacingAndGlyphs">0</text>
<rect x="273.32" y="173.40" width="19.53" height="21.35" fill="rgb(255,254,254)"/>
<text x="283.08" y="187.07" font-size="8.4" text-anchor="middle" fill="#000" fill-opacity="0.8" stroke="#000" stroke-opacity="0.35" stroke-width="0.2" textLength="15.20" lengthAdjust="spacingAndGlyphs">0.01</text>
<text x="302.61" y="187.07" font-size="8.4" text-anchor="middle" fill="#000" fill-opacity="0.8" stroke="#000" stroke-opacity="0.35" stroke-width="0.2" textLength="4.34" lengthAdjust="spacingAndGlyphs">0</text>
<rect x="312.37" y="173.40" width="19.53" height="21.35" fill="rgb(251,242,244)"/>
<text x="322.14" y="187.07" font-size="8.4" text-anchor="middle" fill="#000" fill-opacity="0.8" stroke="#000" stroke-opacity="0.35" stroke-width="0.2" textLength="15.20" lengthAdjust="spacingAndGlyphs">0.08</text>
<rect x="39.00" y="148.85" width="292.90" height="3.15" fill="#fff"/>
<rect x="367.00" y="148.85" width="21.30" height="3.15" fill="#fff"/>
<line x1="58.53" y1="106.05" x2="58.53" y2="148.85" stroke="#111" stroke-width="1.3"/>
<line x1="58.53" y1="152.00" x2="58.53" y2="194.75" stroke="#111" stroke-width="1.3"/>
<line x1="78.05" y1="106.05" x2="78.05" y2="148.85" stroke="#111" stroke-width="1.3"/>
<line x1="78.05" y1="152.00" x2="78.05" y2="194.75" stroke="#111" stroke-width="1.3"/>
<line x1="97.58" y1="106.05" x2="97.58" y2="148.85" stroke="#111" stroke-width="1.3"/>
<line x1="97.58" y1="152.00" x2="97.58" y2="194.75" stroke="#111" stroke-width="1.3"/>
<line x1="117.11" y1="106.05" x2="117.11" y2="148.85" stroke="#111" stroke-width="1.3"/>
<line x1="117.11" y1="152.00" x2="117.11" y2="194.75" stroke="#111" stroke-width="1.3"/>
<line x1="136.63" y1="106.05" x2="136.63" y2="148.85" stroke="#111" stroke-width="1.3"/>
<line x1="136.63" y1="152.00" x2="136.63" y2="194.75" stroke="#111" stroke-width="1.3"/>
<line x1="156.16" y1="106.05" x2="156.16" y2="148.85" stroke="#111" stroke-width="1.3"/>
<line x1="156.16" y1="152.00" x2="156.16" y2="194.75" stroke="#111" stroke-width="1.3"/>
<line x1="175.69" y1="106.05" x2="175.69" y2="148.85" stroke="#111" stroke-width="1.3"/>
<line x1="175.69" y1="152.00" x2="175.69" y2="194.75" stroke="#111" stroke-width="1.3"/>
<line x1="195.21" y1="106.05" x2="195.21" y2="148.85" stroke="#111" stroke-width="1.3"/>
<line x1="195.21" y1="152.00" x2="195.21" y2="194.75" stroke="#111" stroke-width="1.3"/>
<line x1="214.74" y1="106.05" x2="214.74" y2="148.85" stroke="#111" stroke-width="1.3"/>
<line x1="214.74" y1="152.00" x2="214.74" y2="194.75" stroke="#111" stroke-width="1.3"/>
<line x1="234.27" y1="106.05" x2="234.27" y2="148.85" stroke="#111" stroke-width="1.3"/>
<line x1="234.27" y1="152.00" x2="234.27" y2="194.75" stroke="#111" stroke-width="1.3"/>
<line x1="253.79" y1="106.05" x2="253.79" y2="148.85" stroke="#111" stroke-width="1.3"/>
<line x1="253.79" y1="152.00" x2="253.79" y2="194.75" stroke="#111" stroke-width="1.3"/>
<line x1="273.32" y1="106.05" x2="273.32" y2="148.85" stroke="#111" stroke-width="1.3"/>
<line x1="273.32" y1="152.00" x2="273.32" y2="194.75" stroke="#111" stroke-width="1.3"/>
<line x1="292.85" y1="106.05" x2="292.85" y2="148.85" stroke="#111" stroke-width="1.3"/>
<line x1="292.85" y1="152.00" x2="292.85" y2="194.75" stroke="#111" stroke-width="1.3"/>
<line x1="312.37" y1="106.05" x2="312.37" y2="148.85" stroke="#111" stroke-width="1.3"/>
<line x1="312.37" y1="152.00" x2="312.37" y2="194.75" stroke="#111" stroke-width="1.3"/>
<line x1="39.00" y1="127.45" x2="331.90" y2="127.45" stroke="#111" stroke-width="1.3"/>
<line x1="39.00" y1="148.85" x2="331.90" y2="148.85" stroke="#111" stroke-width="1.3"/>
<line x1="39.00" y1="152.00" x2="331.90" y2="152.00" stroke="#111" stroke-width="1.3"/>
<line x1="39.00" y1="173.40" x2="331.90" y2="173.40" stroke="#111" stroke-width="1.3"/>
<line x1="367.00" y1="148.85" x2="388.30" y2="148.85" stroke="#111" stroke-width="1.3"/>
<line x1="367.00" y1="152.00" x2="388.30" y2="152.00" stroke="#111" stroke-width="1.3"/>
<line x1="331.90" y1="106.05" x2="331.90" y2="194.75" stroke="#111" stroke-width="1.4"/>
<line x1="339.90" y1="106.05" x2="339.90" y2="194.75" stroke="#111" stroke-width="1.4"/>
<line x1="360.80" y1="106.05" x2="360.80" y2="194.75" stroke="#111" stroke-width="1.4"/>
<line x1="367.00" y1="106.05" x2="367.00" y2="194.75" stroke="#111" stroke-width="1.4"/>
<line x1="388.30" y1="106.05" x2="388.30" y2="194.75" stroke="#111" stroke-width="1.4"/>
<rect x="39.00" y="106.05" width="415.60" height="88.70" fill="none" stroke="#000" stroke-width="1.6"/>
<text transform="translate(352.95,150.40) rotate(-90)" font-size="7.8" text-anchor="middle" fill="#222" stroke="#222" stroke-width="0.22" stroke-opacity="0.6">demethylated</text>
<text transform="translate(380.45,127.45) rotate(-90)" font-size="7.7" text-anchor="middle" fill="#222" stroke="#222" stroke-width="0.22" stroke-opacity="0.6">YES</text>
<text transform="translate(380.45,173.38) rotate(-90)" font-size="7.7" text-anchor="middle" fill="#222" stroke="#222" stroke-width="0.22" stroke-opacity="0.6">NO</text>
<text x="412.3" y="130.65" font-size="7.7" text-anchor="end" fill="#222" stroke="#222" stroke-width="0.22" stroke-opacity="0.6">42</text>
<text x="412.3" y="176.57" font-size="7.7" text-anchor="end" fill="#222" stroke="#222" stroke-width="0.22" stroke-opacity="0.6">739</text>
<text x="420.8" y="120.35" font-size="7.9" fill="#333" textLength="23.5" lengthAdjust="spacingAndGlyphs" stroke="#333" stroke-width="0.22" stroke-opacity="0.6">HSPC</text>
<text x="420.8" y="141.75" font-size="7.9" fill="#333" textLength="23.5" lengthAdjust="spacingAndGlyphs" stroke="#333" stroke-width="0.22" stroke-opacity="0.6">BasoE</text>
<text x="420.8" y="166.30" font-size="7.9" fill="#333" textLength="23.5" lengthAdjust="spacingAndGlyphs" stroke="#333" stroke-width="0.22" stroke-opacity="0.6">HSPC</text>
<text x="420.8" y="187.67" font-size="7.9" fill="#333" textLength="23.5" lengthAdjust="spacingAndGlyphs" stroke="#333" stroke-width="0.22" stroke-opacity="0.6">BasoE</text>
<rect x="41.76" y="196.3" width="14.0" height="54.2" fill="rgb(245,225,10)" stroke="#1a1a1a" stroke-width="1"/>
<text transform="translate(51.36,199.8) rotate(-90)" font-size="7.8" text-anchor="end" fill="#3a3300" stroke="#3a3300" stroke-width="0.22" stroke-opacity="0.6">TssA</text>
<rect x="61.29" y="196.3" width="14.0" height="54.2" fill="rgb(240,200,20)" stroke="#1a1a1a" stroke-width="1"/>
<text transform="translate(70.89,199.8) rotate(-90)" font-size="7.8" text-anchor="end" fill="#3a3000" stroke="#3a3000" stroke-width="0.22" stroke-opacity="0.6">TssAFlnk</text>
<rect x="80.82" y="196.3" width="14.0" height="54.2" fill="rgb(230,142,50)" stroke="#1a1a1a" stroke-width="1"/>
<text transform="translate(90.42,199.8) rotate(-90)" font-size="7.8" text-anchor="end" fill="#4a2a00" stroke="#4a2a00" stroke-width="0.22" stroke-opacity="0.6">TxFlnk</text>
<rect x="100.34" y="196.3" width="14.0" height="54.2" fill="rgb(214,94,62)" stroke="#1a1a1a" stroke-width="1"/>
<text transform="translate(109.94,199.8) rotate(-90)" font-size="7.8" text-anchor="end" fill="#5a1a08" stroke="#5a1a08" stroke-width="0.22" stroke-opacity="0.6">Tx</text>
<rect x="119.87" y="196.3" width="14.0" height="54.2" fill="rgb(205,14,34)" stroke="#1a1a1a" stroke-width="1"/>
<text transform="translate(129.47,199.8) rotate(-90)" font-size="7.8" text-anchor="end" fill="#ffd0d4" stroke="#ffd0d4" stroke-width="0.22" stroke-opacity="0.6">TxWk</text>
<rect x="139.40" y="196.3" width="14.0" height="54.2" fill="rgb(220,192,226)" stroke="#1a1a1a" stroke-width="1"/>
<text transform="translate(149.00,199.8) rotate(-90)" font-size="7.8" text-anchor="end" fill="#4a3a55" stroke="#4a3a55" stroke-width="0.22" stroke-opacity="0.6">EnhG</text>
<rect x="158.92" y="196.3" width="14.0" height="54.2" fill="rgb(170,76,165)" stroke="#1a1a1a" stroke-width="1"/>
<text transform="translate(168.52,199.8) rotate(-90)" font-size="7.8" text-anchor="end" fill="#4a1848" stroke="#4a1848" stroke-width="0.22" stroke-opacity="0.6">Enh</text>
<rect x="178.45" y="196.3" width="14.0" height="54.2" fill="rgb(168,24,30)" stroke="#1a1a1a" stroke-width="1"/>
<text transform="translate(188.05,199.8) rotate(-90)" font-size="7.8" text-anchor="end" fill="#ffd0d0" stroke="#ffd0d0" stroke-width="0.22" stroke-opacity="0.6">ZNFRpts</text>
<rect x="197.98" y="196.3" width="14.0" height="54.2" fill="rgb(86,160,66)" stroke="#1a1a1a" stroke-width="1"/>
<text transform="translate(207.58,199.8) rotate(-90)" font-size="7.8" text-anchor="end" fill="#17440f" stroke="#17440f" stroke-width="0.22" stroke-opacity="0.6">TssBiv</text>
<rect x="217.50" y="196.3" width="14.0" height="54.2" fill="rgb(152,196,60)" stroke="#1a1a1a" stroke-width="1"/>
<text transform="translate(227.10,199.8) rotate(-90)" font-size="7.8" text-anchor="end" fill="#35480a" stroke="#35480a" stroke-width="0.22" stroke-opacity="0.6">BivFlnk</text>
<rect x="237.03" y="196.3" width="14.0" height="54.2" fill="rgb(222,226,104)" stroke="#1a1a1a" stroke-width="1"/>
<text transform="translate(246.63,199.8) rotate(-90)" font-size="7.8" text-anchor="end" fill="#4a4a10" stroke="#4a4a10" stroke-width="0.22" stroke-opacity="0.6">EnhBiv</text>
<rect x="256.56" y="196.3" width="14.0" height="54.2" fill="rgb(130,170,224)" stroke="#1a1a1a" stroke-width="1"/>
<text transform="translate(266.16,199.8) rotate(-90)" font-size="7.8" text-anchor="end" fill="#1c2f5a" stroke="#1c2f5a" stroke-width="0.22" stroke-opacity="0.6">ReprPC</text>
<rect x="276.08" y="196.3" width="14.0" height="54.2" fill="rgb(58,58,158)" stroke="#1a1a1a" stroke-width="1"/>
<text transform="translate(285.68,199.8) rotate(-90)" font-size="7.8" text-anchor="end" fill="#d8d8ff" stroke="#d8d8ff" stroke-width="0.22" stroke-opacity="0.6">ReprPCWk</text>
<rect x="295.61" y="196.3" width="14.0" height="54.2" fill="rgb(100,42,150)" stroke="#1a1a1a" stroke-width="1"/>
<text transform="translate(305.21,199.8) rotate(-90)" font-size="7.8" text-anchor="end" fill="#f0d0f0" stroke="#f0d0f0" stroke-width="0.22" stroke-opacity="0.6">Het</text>
<rect x="315.14" y="196.3" width="14.0" height="54.2" fill="rgb(96,96,96)" stroke="#1a1a1a" stroke-width="1"/>
<text transform="translate(324.74,199.8) rotate(-90)" font-size="7.8" text-anchor="end" fill="#e0e0e0" stroke="#e0e0e0" stroke-width="0.22" stroke-opacity="0.6">Quies</text>
<text transform="translate(348.2,227.2) rotate(-90)" font-size="7.9" fill="#222" stroke="#222" stroke-width="0.22" stroke-opacity="0.6">State in</text>
<text transform="translate(358.3,227.2) rotate(-90)" font-size="7.9" fill="#222" stroke="#222" stroke-width="0.22" stroke-opacity="0.6">BasoE</text>
<text transform="translate(375.3,232.0) rotate(-90)" font-size="7.8" fill="#222" stroke="#222" stroke-width="0.22" stroke-opacity="0.6">Overlaps</text>
<text transform="translate(385.2,232.0) rotate(-90)" font-size="7.8" fill="#222" stroke="#222" stroke-width="0.22" stroke-opacity="0.6">Promoter</text>
<text x="405.2" y="206.8" font-size="7.8" text-anchor="middle" fill="#222" stroke="#222" stroke-width="0.22" stroke-opacity="0.6">#</text>
<text x="432.6" y="206.8" font-size="7.8" text-anchor="middle" fill="#222" stroke="#222" stroke-width="0.22" stroke-opacity="0.6">Cell</text>
<defs><linearGradient id="cb" x1="0" y1="1" x2="0" y2="0">
<stop offset="0.00" stop-color="rgb(255,255,255)"/>
<stop offset="0.10" stop-color="rgb(251,241,242)"/>
<stop offset="0.20" stop-color="rgb(243,216,221)"/>
<stop offset="0.30" stop-color="rgb(235,189,196)"/>
<stop offset="0.40" stop-color="rgb(229,161,169)"/>
<stop offset="0.50" stop-color="rgb(225,131,141)"/>
<stop offset="0.60" stop-color="rgb(221,101,111)"/>
<stop offset="0.70" stop-color="rgb(215,66,76)"/>
<stop offset="0.80" stop-color="rgb(213,43,54)"/>
<stop offset="0.90" stop-color="rgb(211,23,39)"/>
<stop offset="1.00" stop-color="rgb(208,4,24)"/>
</linearGradient></defs>
<rect x="464.3" y="53.5" width="18.5" height="101.1" fill="url(#cb)" stroke="#222" stroke-width="1"/>
<line x1="482.8" y1="154.60" x2="485.8" y2="154.60" stroke="#222" stroke-width="1"/>
<text transform="translate(496.3,154.60) rotate(-90)" font-size="7.4" text-anchor="middle" fill="#333" stroke="#333" stroke-width="0.22" stroke-opacity="0.6">0</text>
<line x1="482.8" y1="130.53" x2="485.8" y2="130.53" stroke="#222" stroke-width="1"/>
<text transform="translate(496.3,130.53) rotate(-90)" font-size="7.4" text-anchor="middle" fill="#333" stroke="#333" stroke-width="0.22" stroke-opacity="0.6">0.2</text>
<line x1="482.8" y1="106.46" x2="485.8" y2="106.46" stroke="#222" stroke-width="1"/>
<text transform="translate(496.3,106.46) rotate(-90)" font-size="7.4" text-anchor="middle" fill="#333" stroke="#333" stroke-width="0.22" stroke-opacity="0.6">0.4</text>
<line x1="482.8" y1="82.39" x2="485.8" y2="82.39" stroke="#222" stroke-width="1"/>
<text transform="translate(496.3,82.39) rotate(-90)" font-size="7.4" text-anchor="middle" fill="#333" stroke="#333" stroke-width="0.22" stroke-opacity="0.6">0.6</text>
<line x1="482.8" y1="58.32" x2="485.8" y2="58.32" stroke="#222" stroke-width="1"/>
<text transform="translate(496.3,58.32) rotate(-90)" font-size="7.4" text-anchor="middle" fill="#333" stroke="#333" stroke-width="0.22" stroke-opacity="0.6">0.8</text>
<text transform="translate(510.6,104.1) rotate(-90)" font-size="9" text-anchor="middle" fill="#222" textLength="50.4" lengthAdjust="spacingAndGlyphs" stroke="#222" stroke-width="0.22" stroke-opacity="0.6">Fraction covered</text>
<text x="7.3" y="280.6" font-size="12" font-weight="bold" fill="#000" stroke="#000" stroke-width="0.22" stroke-opacity="0.6">B</text>
<text x="75.3" y="276.5" font-size="8.5" fill="#222" textLength="139" lengthAdjust="spacingAndGlyphs" stroke="#222" stroke-width="0.22" stroke-opacity="0.6">DMRs demethylated in BasoE (n=781)</text>
<text x="326.5" y="276.5" font-size="8.5" fill="#222" textLength="130.5" lengthAdjust="spacingAndGlyphs" stroke="#222" stroke-width="0.22" stroke-opacity="0.6">DMRs methylated in BasoE (n=138)</text>
<line x1="20.2" y1="387.5" x2="20.2" y2="397" stroke="#000" stroke-width="1.4"/>
<path d="M17.4,395.5 L23,395.5 L20.2,403.2 Z" fill="#000"/>
<rect x="14.8" y="347.5" width="10.6" height="28" fill="#d4d4ec"/>
<text transform="translate(23.3,361.5) rotate(-90)" font-size="7.8" text-anchor="middle" fill="#2a2a5e" stroke="#2a2a5e" stroke-width="0.22" stroke-opacity="0.6">HSPC</text>
<rect x="14.8" y="411.5" width="10.6" height="25.7" fill="#f2d2dc"/>
<text transform="translate(23.3,424.3) rotate(-90)" font-size="7.8" text-anchor="middle" fill="#6a1a30" stroke="#6a1a30" stroke-width="0.22" stroke-opacity="0.6">BasoE</text>
<path d="M149.61,325.50 A67.5,67.5 0 0 1 178.95,332.02 Q150.00,393.00 122.77,454.76 A67.5,67.5 0 0 1 97.99,436.03 Q150.00,393.00 149.61,325.50 Z" fill="rgb(170,76,165)" fill-opacity="0.84" stroke="rgb(170,76,165)" stroke-opacity="0.5" stroke-width="0.3"/>
<path d="M210.36,362.79 A67.5,67.5 0 0 1 216.92,384.19 Q150.00,393.00 149.71,460.50 A67.5,67.5 0 0 1 127.72,456.72 Q150.00,393.00 210.36,362.79 Z" fill="rgb(96,96,96)" fill-opacity="0.84" stroke="rgb(96,96,96)" stroke-opacity="0.5" stroke-width="0.3"/>
<path d="M115.49,334.99 A67.5,67.5 0 0 1 125.76,330.00 Q150.00,393.00 173.16,456.40 A67.5,67.5 0 0 1 161.80,459.46 Q150.00,393.00 115.49,334.99 Z" fill="rgb(205,14,34)" fill-opacity="0.84" stroke="rgb(205,14,34)" stroke-opacity="0.5" stroke-width="0.3"/>
<path d="M107.20,340.80 A67.5,67.5 0 0 1 115.49,334.99 Q150.00,393.00 199.45,438.94 A67.5,67.5 0 0 1 191.32,446.37 Q150.00,393.00 107.20,340.80 Z" fill="rgb(205,14,34)" fill-opacity="0.84" stroke="rgb(205,14,34)" stroke-opacity="0.5" stroke-width="0.3"/>
<path d="M93.01,356.83 A67.5,67.5 0 0 1 98.94,348.85 Q150.00,393.00 161.80,459.46 A67.5,67.5 0 0 1 151.61,460.48 Q150.00,393.00 93.01,356.83 Z" fill="rgb(214,94,62)" fill-opacity="0.84" stroke="rgb(214,94,62)" stroke-opacity="0.5" stroke-width="0.3"/>
<path d="M207.59,357.79 A67.5,67.5 0 0 1 210.36,362.79 Q150.00,393.00 84.75,410.27 A67.5,67.5 0 0 1 83.66,405.44 Q150.00,393.00 207.59,357.79 Z" fill="rgb(96,96,96)" fill-opacity="0.84" stroke="rgb(96,96,96)" stroke-opacity="0.5" stroke-width="0.3"/>
<path d="M131.95,327.96 A67.5,67.5 0 0 1 137.00,326.76 Q150.00,393.00 127.72,456.72 A67.5,67.5 0 0 1 122.77,454.76 Q150.00,393.00 131.95,327.96 Z" fill="rgb(220,192,226)" fill-opacity="0.84" stroke="rgb(220,192,226)" stroke-opacity="0.5" stroke-width="0.3"/>
<path d="M84.68,375.99 A67.5,67.5 0 0 1 85.70,372.48 Q150.00,393.00 216.13,406.52 A67.5,67.5 0 0 1 215.23,410.36 Q150.00,393.00 84.68,375.99 Z" fill="rgb(240,200,20)" fill-opacity="0.84" stroke="rgb(240,200,20)" stroke-opacity="0.5" stroke-width="0.3"/>
<path d="M146.30,325.60 A67.5,67.5 0 0 1 149.61,325.50 Q150.00,393.00 83.66,405.44 A67.5,67.5 0 0 1 83.17,402.51 Q150.00,393.00 146.30,325.60 Z" fill="rgb(170,76,165)" fill-opacity="0.84" stroke="rgb(170,76,165)" stroke-opacity="0.5" stroke-width="0.3"/>
<path d="M91.49,359.35 A67.5,67.5 0 0 1 93.01,356.83 Q148.50,392.83 86.40,415.62 A67.5,67.5 0 0 1 85.57,413.12 Q142.30,392.15 91.49,359.35 Z" fill="rgb(214,94,62)" fill-opacity="0.84" stroke="rgb(214,94,62)" stroke-opacity="0.5" stroke-width="0.3"/>
<path d="M105.10,342.60 A67.5,67.5 0 0 1 107.20,340.80 Q150.00,393.00 85.57,413.12 A67.5,67.5 0 0 1 84.87,410.74 Q150.00,393.00 105.10,342.60 Z" fill="rgb(205,14,34)" fill-opacity="0.84" stroke="rgb(205,14,34)" stroke-opacity="0.5" stroke-width="0.3"/>
<path d="M143.92,325.77 A67.5,67.5 0 0 1 146.30,325.60 Q150.00,393.00 201.19,437.00 A67.5,67.5 0 0 1 199.45,438.94 Q150.00,393.00 143.92,325.77 Z" fill="rgb(170,76,165)" fill-opacity="0.84" stroke="rgb(170,76,165)" stroke-opacity="0.5" stroke-width="0.3"/>
<path d="M84.28,377.60 A67.5,67.5 0 0 1 84.68,375.99 Q150.00,393.00 151.61,460.48 A67.5,67.5 0 0 1 149.71,460.50 Q150.00,393.00 84.28,377.60 Z" fill="rgb(240,200,20)" fill-opacity="0.84" stroke="rgb(240,200,20)" stroke-opacity="0.5" stroke-width="0.3"/>
<path d="M103.74,343.84 A67.5,67.5 0 0 1 105.10,342.60 Q150.00,393.00 184.74,450.87 A67.5,67.5 0 0 1 183.14,451.81 Q150.00,393.00 103.74,343.84 Z" fill="rgb(205,14,34)" fill-opacity="0.84" stroke="rgb(205,14,34)" stroke-opacity="0.5" stroke-width="0.3"/>
<path d="M197.92,345.47 A67.5,67.5 0 0 1 199.69,347.31 Q150.00,393.00 177.39,454.69 A67.5,67.5 0 0 1 175.64,455.44 Q150.00,393.00 197.92,345.47 Z" fill="rgb(58,58,158)" fill-opacity="0.84" stroke="rgb(58,58,158)" stroke-opacity="0.5" stroke-width="0.3"/>
<path d="M90.77,360.63 A67.5,67.5 0 0 1 91.49,359.35 Q150.00,393.00 202.22,435.77 A67.5,67.5 0 0 1 201.19,437.00 Q150.00,393.00 90.77,360.63 Z" fill="rgb(214,94,62)" fill-opacity="0.84" stroke="rgb(214,94,62)" stroke-opacity="0.5" stroke-width="0.3"/>
<path d="M90.07,361.94 A67.5,67.5 0 0 1 90.77,360.63 Q150.00,393.00 186.01,450.10 A67.5,67.5 0 0 1 184.74,450.87 Q150.00,393.00 90.07,361.94 Z" fill="rgb(214,94,62)" fill-opacity="0.84" stroke="rgb(214,94,62)" stroke-opacity="0.5" stroke-width="0.3"/>
<path d="M142.46,325.92 A67.5,67.5 0 0 1 143.92,325.77 Q150.00,393.00 216.40,405.12 A67.5,67.5 0 0 1 216.13,406.52 Q150.00,393.00 142.46,325.92 Z" fill="rgb(170,76,165)" fill-opacity="0.84" stroke="rgb(170,76,165)" stroke-opacity="0.5" stroke-width="0.3"/>
<path d="M83.11,383.96 A67.5,67.5 0 0 1 83.31,382.56 Q150.00,393.00 216.59,404.06 A67.5,67.5 0 0 1 216.40,405.12 Q150.00,393.00 83.11,383.96 Z" fill="rgb(245,225,10)" fill-opacity="0.84" stroke="rgb(245,225,10)" stroke-opacity="0.5" stroke-width="0.3"/>
<path d="M130.88,328.26 A67.5,67.5 0 0 1 131.95,327.96 Q150.00,393.00 186.94,449.49 A67.5,67.5 0 0 1 186.01,450.10 Q150.00,393.00 130.88,328.26 Z" fill="rgb(220,192,226)" fill-opacity="0.84" stroke="rgb(220,192,226)" stroke-opacity="0.5" stroke-width="0.3"/>
<path d="M206.98,356.82 A67.5,67.5 0 0 1 207.59,357.79 Q150.00,393.00 202.97,434.84 A67.5,67.5 0 0 1 202.22,435.77 Q150.00,393.00 206.98,356.82 Z" fill="rgb(96,96,96)" fill-opacity="0.84" stroke="rgb(96,96,96)" stroke-opacity="0.5" stroke-width="0.3"/>
<path d="M84.10,378.41 A67.5,67.5 0 0 1 84.28,377.60 Q150.00,393.00 213.96,414.59 A67.5,67.5 0 0 1 213.67,415.42 Q150.00,393.00 84.10,378.41 Z" fill="rgb(240,200,20)" fill-opacity="0.84" stroke="rgb(240,200,20)" stroke-opacity="0.5" stroke-width="0.3"/>
<path d="M103.07,344.48 A67.5,67.5 0 0 1 103.74,343.84 Q150.00,393.00 216.73,403.17 A67.5,67.5 0 0 1 216.59,404.06 Q150.00,393.00 103.07,344.48 Z" fill="rgb(205,14,34)" fill-opacity="0.84" stroke="rgb(205,14,34)" stroke-opacity="0.5" stroke-width="0.3"/>
<path d="M102.42,345.12 A67.5,67.5 0 0 1 103.07,344.48 Q150.00,393.00 210.54,422.85 A67.5,67.5 0 0 1 210.14,423.64 Q150.00,393.00 102.42,345.12 Z" fill="rgb(205,14,34)" fill-opacity="0.84" stroke="rgb(205,14,34)" stroke-opacity="0.5" stroke-width="0.3"/>
<path d="M141.54,326.03 A67.5,67.5 0 0 1 142.46,325.92 Q150.00,393.00 187.72,448.98 A67.5,67.5 0 0 1 186.94,449.49 Q150.00,393.00 141.54,326.03 Z" fill="rgb(170,76,165)" fill-opacity="0.84" stroke="rgb(170,76,165)" stroke-opacity="0.5" stroke-width="0.3"/>
<path d="M83.96,379.06 A67.5,67.5 0 0 1 84.10,378.41 Q150.00,393.00 210.85,422.22 A67.5,67.5 0 0 1 210.54,422.85 Q150.00,393.00 83.96,379.06 Z" fill="rgb(240,200,20)" fill-opacity="0.84" stroke="rgb(240,200,20)" stroke-opacity="0.5" stroke-width="0.3"/>
<path d="M87.06,368.61 A67.5,67.5 0 0 1 87.37,367.82 Q150.00,393.00 174.23,456.00 A67.5,67.5 0 0 1 173.52,456.27 Q150.00,393.00 87.06,368.61 Z" fill="rgb(230,142,50)" fill-opacity="0.84" stroke="rgb(230,142,50)" stroke-opacity="0.5" stroke-width="0.3"/>
<path d="M89.74,362.59 A67.5,67.5 0 0 1 90.07,361.94 Q150.00,393.00 211.15,421.58 A67.5,67.5 0 0 1 210.85,422.22 Q150.00,393.00 89.74,362.59 Z" fill="rgb(214,94,62)" fill-opacity="0.84" stroke="rgb(214,94,62)" stroke-opacity="0.5" stroke-width="0.3"/>
<path d="M130.17,328.48 A67.5,67.5 0 0 1 130.88,328.26 Q150.00,393.00 203.47,434.20 A67.5,67.5 0 0 1 202.97,434.84 Q150.00,393.00 130.17,328.48 Z" fill="rgb(220,192,226)" fill-opacity="0.84" stroke="rgb(220,192,226)" stroke-opacity="0.5" stroke-width="0.3"/>
<path d="M206.57,356.18 A67.5,67.5 0 0 1 206.98,356.82 Q150.00,393.00 188.33,448.56 A67.5,67.5 0 0 1 187.72,448.98 Q150.00,393.00 206.57,356.18 Z" fill="rgb(96,96,96)" fill-opacity="0.84" stroke="rgb(96,96,96)" stroke-opacity="0.5" stroke-width="0.3"/>
<path d="M83.86,379.54 A67.5,67.5 0 0 1 83.96,379.06 Q116.10,393.98 84.87,410.74 A67.5,67.5 0 0 1 84.75,410.27 Q115.02,394.01 83.86,379.54 Z" fill="rgb(240,200,20)" fill-opacity="0.84" stroke="rgb(240,200,20)" stroke-opacity="0.5" stroke-width="0.3"/>
<path d="M86.83,369.21 A67.5,67.5 0 0 1 87.06,368.61 Q150.00,393.00 211.37,421.10 A67.5,67.5 0 0 1 211.15,421.58 Q150.00,393.00 86.83,369.21 Z" fill="rgb(230,142,50)" fill-opacity="0.84" stroke="rgb(230,142,50)" stroke-opacity="0.5" stroke-width="0.3"/>
<path d="M89.49,363.09 A67.5,67.5 0 0 1 89.74,362.59 Q150.00,393.00 216.81,402.64 A67.5,67.5 0 0 1 216.73,403.17 Q150.00,393.00 89.49,363.09 Z" fill="rgb(214,94,62)" fill-opacity="0.84" stroke="rgb(214,94,62)" stroke-opacity="0.5" stroke-width="0.3"/>
<path d="M141.00,326.10 A67.5,67.5 0 0 1 141.54,326.03 Q150.00,393.00 214.12,414.08 A67.5,67.5 0 0 1 213.96,414.59 Q150.00,393.00 141.00,326.10 Z" fill="rgb(170,76,165)" fill-opacity="0.84" stroke="rgb(170,76,165)" stroke-opacity="0.5" stroke-width="0.3"/>
<path d="M140.45,326.18 A67.5,67.5 0 0 1 141.00,326.10 Q150.00,393.00 211.59,420.62 A67.5,67.5 0 0 1 211.37,421.10 Q150.00,393.00 140.45,326.18 Z" fill="rgb(170,76,165)" fill-opacity="0.84" stroke="rgb(170,76,165)" stroke-opacity="0.5" stroke-width="0.3"/>
<path d="M191.37,339.66 A67.5,67.5 0 0 1 191.93,340.10 Q150.00,393.00 175.29,455.58 A67.5,67.5 0 0 1 174.76,455.79 Q150.00,393.00 191.37,339.66 Z" fill="rgb(222,226,104)" fill-opacity="0.84" stroke="rgb(222,226,104)" stroke-opacity="0.5" stroke-width="0.3"/>
<path d="M206.26,355.70 A67.5,67.5 0 0 1 206.57,356.18 Q165.80,389.45 216.88,402.11 A67.5,67.5 0 0 1 216.81,402.64 Q164.59,389.72 206.26,355.70 Z" fill="rgb(96,96,96)" fill-opacity="0.84" stroke="rgb(96,96,96)" stroke-opacity="0.5" stroke-width="0.3"/>
<path d="M83.05,384.42 A67.5,67.5 0 0 1 83.11,383.96 Q150.00,393.00 173.52,456.27 A67.5,67.5 0 0 1 173.16,456.40 Q150.00,393.00 83.05,384.42 Z" fill="rgb(245,225,10)" fill-opacity="0.84" stroke="rgb(245,225,10)" stroke-opacity="0.5" stroke-width="0.3"/>
<path d="M86.68,369.60 A67.5,67.5 0 0 1 86.83,369.21 Q150.00,393.00 216.93,401.75 A67.5,67.5 0 0 1 216.88,402.11 Q150.00,393.00 86.68,369.60 Z" fill="rgb(230,142,50)" fill-opacity="0.84" stroke="rgb(230,142,50)" stroke-opacity="0.5" stroke-width="0.3"/>
<path d="M102.16,345.38 A67.5,67.5 0 0 1 102.42,345.12 Q150.00,393.00 214.23,413.75 A67.5,67.5 0 0 1 214.12,414.08 Q150.00,393.00 102.16,345.38 Z" fill="rgb(205,14,34)" fill-opacity="0.84" stroke="rgb(205,14,34)" stroke-opacity="0.5" stroke-width="0.3"/>
<path d="M101.90,345.65 A67.5,67.5 0 0 1 102.16,345.38 Q150.00,393.00 207.24,428.77 A67.5,67.5 0 0 1 207.06,429.07 Q150.00,393.00 101.90,345.65 Z" fill="rgb(205,14,34)" fill-opacity="0.84" stroke="rgb(205,14,34)" stroke-opacity="0.5" stroke-width="0.3"/>
<path d="M129.81,328.59 A67.5,67.5 0 0 1 130.17,328.48 Q150.00,393.00 86.51,415.93 A67.5,67.5 0 0 1 86.40,415.62 Q150.00,393.00 129.81,328.59 Z" fill="rgb(220,192,226)" fill-opacity="0.84" stroke="rgb(220,192,226)" stroke-opacity="0.5" stroke-width="0.3"/>
<path d="M194.46,342.21 A67.5,67.5 0 0 1 194.90,342.60 Q150.00,393.00 175.64,455.44 A67.5,67.5 0 0 1 175.29,455.58 Q150.00,393.00 194.46,342.21 Z" fill="rgb(130,170,224)" fill-opacity="0.84" stroke="rgb(130,170,224)" stroke-opacity="0.5" stroke-width="0.3"/>
<path d="M206.05,355.38 A67.5,67.5 0 0 1 206.26,355.70 Q150.00,393.00 94.91,432.01 A67.5,67.5 0 0 1 94.64,431.62 Q150.00,393.00 206.05,355.38 Z" fill="rgb(96,96,96)" fill-opacity="0.84" stroke="rgb(96,96,96)" stroke-opacity="0.5" stroke-width="0.3"/>
<path d="M205.83,355.07 A67.5,67.5 0 0 1 206.05,355.38 Q150.00,393.00 91.14,426.03 A67.5,67.5 0 0 1 90.96,425.72 Q150.00,393.00 205.83,355.07 Z" fill="rgb(96,96,96)" fill-opacity="0.84" stroke="rgb(96,96,96)" stroke-opacity="0.5" stroke-width="0.3"/>
<path d="M205.62,354.75 A67.5,67.5 0 0 1 205.83,355.07 Q150.00,393.00 88.73,421.31 A67.5,67.5 0 0 1 88.58,420.99 Q150.00,393.00 205.62,354.75 Z" fill="rgb(96,96,96)" fill-opacity="0.84" stroke="rgb(96,96,96)" stroke-opacity="0.5" stroke-width="0.3"/>
<path d="M83.02,384.66 A67.5,67.5 0 0 1 83.05,384.42 Q150.00,393.00 214.29,413.58 A67.5,67.5 0 0 1 214.23,413.75 Q150.00,393.00 83.02,384.66 Z" fill="rgb(245,225,10)" fill-opacity="0.84" stroke="rgb(245,225,10)" stroke-opacity="0.5" stroke-width="0.3"/>
<path d="M86.61,369.80 A67.5,67.5 0 0 1 86.68,369.60 Q150.00,393.00 203.59,434.04 A67.5,67.5 0 0 1 203.47,434.20 Q150.00,393.00 86.61,369.80 Z" fill="rgb(230,142,50)" fill-opacity="0.84" stroke="rgb(230,142,50)" stroke-opacity="0.5" stroke-width="0.3"/>
<path d="M89.41,363.25 A67.5,67.5 0 0 1 89.49,363.09 Q150.00,393.00 207.34,428.62 A67.5,67.5 0 0 1 207.24,428.77 Q150.00,393.00 89.41,363.25 Z" fill="rgb(214,94,62)" fill-opacity="0.84" stroke="rgb(214,94,62)" stroke-opacity="0.5" stroke-width="0.3"/>
<path d="M140.27,326.20 A67.5,67.5 0 0 1 140.45,326.18 Q150.00,393.00 95.05,432.20 A67.5,67.5 0 0 1 94.91,432.01 Q150.00,393.00 140.27,326.20 Z" fill="rgb(170,76,165)" fill-opacity="0.84" stroke="rgb(170,76,165)" stroke-opacity="0.5" stroke-width="0.3"/>
<path d="M140.09,326.23 A67.5,67.5 0 0 1 140.27,326.20 Q150.00,393.00 91.22,426.19 A67.5,67.5 0 0 1 91.14,426.03 Q150.00,393.00 140.09,326.23 Z" fill="rgb(170,76,165)" fill-opacity="0.84" stroke="rgb(170,76,165)" stroke-opacity="0.5" stroke-width="0.3"/>
<path d="M139.91,326.26 A67.5,67.5 0 0 1 140.09,326.23 Q150.00,393.00 88.80,421.47 A67.5,67.5 0 0 1 88.73,421.31 Q150.00,393.00 139.91,326.26 Z" fill="rgb(170,76,165)" fill-opacity="0.84" stroke="rgb(170,76,165)" stroke-opacity="0.5" stroke-width="0.3"/>
<path d="M182.10,333.62 A67.5,67.5 0 0 1 182.62,333.91 Q150.00,393.00 174.41,455.93 A67.5,67.5 0 0 1 174.23,456.00 Q150.00,393.00 182.10,333.62 Z" fill="rgb(168,24,30)" fill-opacity="0.84" stroke="rgb(168,24,30)" stroke-opacity="0.5" stroke-width="0.3"/>
<path d="M185.37,335.51 A67.5,67.5 0 0 1 185.87,335.82 Q150.00,393.00 174.58,455.86 A67.5,67.5 0 0 1 174.41,455.93 Q150.00,393.00 185.37,335.51 Z" fill="rgb(86,160,66)" fill-opacity="0.84" stroke="rgb(86,160,66)" stroke-opacity="0.5" stroke-width="0.3"/>
<path d="M188.43,337.51 A67.5,67.5 0 0 1 188.91,337.84 Q150.00,393.00 174.76,455.79 A67.5,67.5 0 0 1 174.58,455.86 Q150.00,393.00 188.43,337.51 Z" fill="rgb(152,196,60)" fill-opacity="0.84" stroke="rgb(152,196,60)" stroke-opacity="0.5" stroke-width="0.3"/>
<path d="M191.18,339.52 A67.5,67.5 0 0 1 191.37,339.66 Q150.00,393.00 216.95,401.58 A67.5,67.5 0 0 1 216.93,401.75 Q150.00,393.00 191.18,339.52 Z" fill="rgb(222,226,104)" fill-opacity="0.84" stroke="rgb(222,226,104)" stroke-opacity="0.5" stroke-width="0.3"/>
<path d="M197.74,345.28 A67.5,67.5 0 0 1 197.92,345.47 Q150.00,393.00 91.31,426.34 A67.5,67.5 0 0 1 91.22,426.19 Q150.00,393.00 197.74,345.28 Z" fill="rgb(58,58,158)" fill-opacity="0.84" stroke="rgb(58,58,158)" stroke-opacity="0.5" stroke-width="0.3"/>
<path d="M197.56,345.10 A67.5,67.5 0 0 1 197.74,345.28 Q150.00,393.00 86.57,416.09 A67.5,67.5 0 0 1 86.51,415.93 Q150.00,393.00 197.56,345.10 Z" fill="rgb(58,58,158)" fill-opacity="0.84" stroke="rgb(58,58,158)" stroke-opacity="0.5" stroke-width="0.3"/>
<path d="M202.53,350.61 A67.5,67.5 0 0 1 202.75,350.89 Q150.00,393.00 177.56,454.62 A67.5,67.5 0 0 1 177.39,454.69 Q150.00,393.00 202.53,350.61 Z" fill="rgb(100,42,150)" fill-opacity="0.84" stroke="rgb(100,42,150)" stroke-opacity="0.5" stroke-width="0.3"/>
<path d="M202.31,350.34 A67.5,67.5 0 0 1 202.53,350.61 Q150.00,393.00 88.87,421.63 A67.5,67.5 0 0 1 88.80,421.47 Q150.00,393.00 202.31,350.34 Z" fill="rgb(100,42,150)" fill-opacity="0.84" stroke="rgb(100,42,150)" stroke-opacity="0.5" stroke-width="0.3"/>
<path d="M205.51,354.60 A67.5,67.5 0 0 1 205.62,354.75 Q151.32,392.80 214.34,413.41 A67.5,67.5 0 0 1 214.29,413.58 Q150.92,392.86 205.51,354.60 Z" fill="rgb(96,96,96)" fill-opacity="0.84" stroke="rgb(96,96,96)" stroke-opacity="0.5" stroke-width="0.3"/>
<path d="M205.40,354.44 A67.5,67.5 0 0 1 205.51,354.60 Q150.00,393.00 211.66,420.45 A67.5,67.5 0 0 1 211.59,420.62 Q150.00,393.00 205.40,354.44 Z" fill="rgb(96,96,96)" fill-opacity="0.84" stroke="rgb(96,96,96)" stroke-opacity="0.5" stroke-width="0.3"/>
<path d="M205.29,354.28 A67.5,67.5 0 0 1 205.40,354.44 Q150.00,393.00 207.43,428.47 A67.5,67.5 0 0 1 207.34,428.62 Q150.00,393.00 205.29,354.28 Z" fill="rgb(96,96,96)" fill-opacity="0.84" stroke="rgb(96,96,96)" stroke-opacity="0.5" stroke-width="0.3"/>
<path d="M68.63,382.86 A82,82 0 0 1 68.99,380.31 L83.31,382.56 A67.5,67.5 0 0 0 83.02,384.66 Z" fill="rgb(245,225,10)"/>
<text transform="translate(75.98,382.60) rotate(8.00)" font-size="8.5" text-anchor="middle" dy="3.06" fill="#3a3300" stroke="#3a3300" stroke-width="0.22" stroke-opacity="0.6">9</text>
<text transform="translate(65.33,381.10) rotate(8.00)" font-size="8" text-anchor="end" dy="2.9" fill="#111" stroke="#111" stroke-width="0.22" stroke-opacity="0.6">TssA</text>
<path d="M69.65,376.65 A82,82 0 0 1 71.88,368.07 L85.70,372.48 A67.5,67.5 0 0 0 83.86,379.54 Z" fill="rgb(240,200,20)"/>
<text transform="translate(77.66,374.16) rotate(14.60)" font-size="8.5" text-anchor="middle" dy="3.06" fill="#3a3000" stroke="#3a3000" stroke-width="0.22" stroke-opacity="0.6">44</text>
<text transform="translate(67.26,371.45) rotate(14.60)" font-size="8" text-anchor="end" dy="2.9" fill="#111" stroke="#111" stroke-width="0.22" stroke-opacity="0.6">TssAFlnk</text>
<path d="M72.99,364.82 A82,82 0 0 1 73.92,362.42 L87.37,367.82 A67.5,67.5 0 0 0 86.61,369.80 Z" fill="rgb(230,142,50)"/>
<text transform="translate(80.21,366.21) rotate(21.00)" font-size="8.5" text-anchor="middle" dy="3.06" fill="#4a2a00" stroke="#4a2a00" stroke-width="0.22" stroke-opacity="0.6">10</text>
<text transform="translate(70.18,362.36) rotate(21.00)" font-size="8" text-anchor="end" dy="2.9" fill="#111" stroke="#111" stroke-width="0.22" stroke-opacity="0.6">TxFlnk</text>
<path d="M76.39,356.86 A82,82 0 0 1 87.97,339.37 L98.94,348.85 A67.5,67.5 0 0 0 89.41,363.25 Z" fill="rgb(214,94,62)"/>
<text transform="translate(87.67,351.74) rotate(33.50)" font-size="8.5" text-anchor="middle" dy="3.06" fill="#5a1a08" stroke="#5a1a08" stroke-width="0.22" stroke-opacity="0.6">94</text>
<text transform="translate(78.70,345.81) rotate(33.50)" font-size="8" text-anchor="end" dy="2.9" fill="#111" stroke="#111" stroke-width="0.22" stroke-opacity="0.6">Tx</text>
<path d="M91.56,335.47 A82,82 0 0 1 120.55,316.47 L125.76,330.00 A67.5,67.5 0 0 0 101.90,345.65 Z" fill="rgb(205,14,34)"/>
<text transform="translate(109.02,330.49) rotate(56.75)" font-size="8.5" text-anchor="middle" dy="3.06" fill="#ffd0d4" stroke="#ffd0d4" stroke-width="0.22" stroke-opacity="0.6">156</text>
<text transform="translate(103.12,321.50) rotate(56.75)" font-size="8" text-anchor="end" dy="2.9" fill="#111" stroke="#111" stroke-width="0.22" stroke-opacity="0.6">TxWk</text>
<path d="M125.48,314.75 A82,82 0 0 1 134.21,312.53 L137.00,326.76 A67.5,67.5 0 0 0 129.81,328.59 Z" fill="rgb(220,192,226)"/>
<text transform="translate(131.60,320.55) rotate(75.75)" font-size="8.5" text-anchor="middle" dy="3.06" fill="#4a3a55" stroke="#4a3a55" stroke-width="0.22" stroke-opacity="0.6">40</text>
<text transform="translate(128.95,310.13) rotate(75.75)" font-size="8" text-anchor="end" dy="2.9" fill="#111" stroke="#111" stroke-width="0.22" stroke-opacity="0.6">Enh<tspan fill="#2e8a3a" stroke="#2e8a3a">G</tspan></text>
<path d="M137.74,311.92 A82,82 0 0 1 185.17,318.93 L178.95,332.02 A67.5,67.5 0 0 0 139.91,326.26 Z" fill="rgb(170,76,165)"/>
<text transform="translate(160.92,319.05) rotate(-81.60)" font-size="8.5" text-anchor="middle" dy="3.06" fill="#4a1848" stroke="#4a1848" stroke-width="0.22" stroke-opacity="0.6">218</text>
<text transform="translate(162.49,308.42) rotate(-81.60)" font-size="8" text-anchor="start" dy="2.9" fill="#111" stroke="#111" stroke-width="0.22" stroke-opacity="0.6">Enh</text>
<path d="M188.81,320.77 A82,82 0 0 1 189.82,321.32 L182.78,333.99 A67.5,67.5 0 0 0 181.95,333.54 Z" fill="rgb(168,24,30)"/>
<text transform="translate(187.88,323.67) rotate(-61.35)" font-size="7.5" text-anchor="middle" dy="2.70" fill="#262626" stroke="#262626" stroke-width="0.22" stroke-opacity="0.6">1</text>
<text transform="translate(190.99,317.97) rotate(-61.35)" font-size="8" text-anchor="start" dy="2.9" fill="#111" stroke="#111" stroke-width="0.22" stroke-opacity="0.6">ZNFRpts</text>
<path d="M192.78,323.05 A82,82 0 0 1 193.76,323.65 L186.02,335.91 A67.5,67.5 0 0 0 185.22,335.42 Z" fill="rgb(86,160,66)"/>
<text transform="translate(188.26,331.42) rotate(-58.15)" font-size="7.5" text-anchor="middle" dy="2.70" fill="#262626" stroke="#262626" stroke-width="0.22" stroke-opacity="0.6">1</text>
<text transform="translate(195.12,320.37) rotate(-58.15)" font-size="8" text-anchor="start" dy="2.9" fill="#111" stroke="#111" stroke-width="0.22" stroke-opacity="0.6">TssBiv</text>
<path d="M196.50,325.46 A82,82 0 0 1 197.44,326.12 L189.05,337.94 A67.5,67.5 0 0 0 188.28,337.40 Z" fill="rgb(152,196,60)"/>
<text transform="translate(195.83,327.43) rotate(-55.05)" font-size="7.5" text-anchor="middle" dy="2.70" fill="#262626" stroke="#262626" stroke-width="0.22" stroke-opacity="0.6">1</text>
<text transform="translate(198.98,322.92) rotate(-55.05)" font-size="8" text-anchor="start" dy="2.9" fill="#111" stroke="#111" stroke-width="0.22" stroke-opacity="0.6">BivFlnk</text>
<path d="M200.03,328.03 A82,82 0 0 1 200.93,328.74 L191.93,340.10 A67.5,67.5 0 0 0 191.18,339.52 Z" fill="rgb(222,226,104)"/>
<text transform="translate(196.48,333.51) rotate(-52.00)" font-size="7.5" text-anchor="middle" dy="2.70" fill="#262626" stroke="#262626" stroke-width="0.22" stroke-opacity="0.6">4</text>
<text transform="translate(202.64,325.63) rotate(-52.00)" font-size="8" text-anchor="start" dy="2.9" fill="#111" stroke="#111" stroke-width="0.22" stroke-opacity="0.6">EnhBiv</text>
<path d="M203.85,331.16 A82,82 0 0 1 204.71,331.92 L195.03,342.72 A67.5,67.5 0 0 0 194.33,342.10 Z" fill="rgb(130,170,224)"/>
<text transform="translate(206.60,328.91) rotate(-48.55)" font-size="8" text-anchor="start" dy="2.9" fill="#111" stroke="#111" stroke-width="0.22" stroke-opacity="0.6">ReprPC</text>
<path d="M207.78,334.82 A82,82 0 0 1 210.36,337.50 L199.69,347.31 A67.5,67.5 0 0 0 197.56,345.10 Z" fill="rgb(58,58,158)"/>
<text transform="translate(211.61,333.71) rotate(-43.90)" font-size="8" text-anchor="start" dy="2.9" fill="#111" stroke="#111" stroke-width="0.22" stroke-opacity="0.6">ReprPCWk</text>
<path d="M213.45,341.06 A82,82 0 0 1 214.17,341.95 L202.83,350.98 A67.5,67.5 0 0 0 202.23,350.25 Z" fill="rgb(100,42,150)"/>
<text transform="translate(216.54,339.31) rotate(-38.90)" font-size="8" text-anchor="start" dy="2.9" fill="#111" stroke="#111" stroke-width="0.22" stroke-opacity="0.6">Het</text>
<path d="M217.17,345.97 A82,82 0 0 1 231.30,382.30 L216.92,384.19 A67.5,67.5 0 0 0 205.29,354.28 Z" fill="rgb(96,96,96)"/>
<text transform="translate(219.67,365.91) rotate(-21.25)" font-size="8.5" text-anchor="middle" dy="3.06" fill="#e0e0e0" stroke="#e0e0e0" stroke-width="0.22" stroke-opacity="0.6">176</text>
<text transform="translate(229.69,362.01) rotate(-21.25)" font-size="8" text-anchor="start" dy="2.9" fill="#111" stroke="#111" stroke-width="0.22" stroke-opacity="0.6">Quies</text>
<path d="M231.34,403.42 A82,82 0 0 1 229.24,414.08 L215.23,410.36 A67.5,67.5 0 0 0 216.95,401.58 Z" fill="rgb(245,225,10)"/>
<text transform="translate(223.35,407.39) rotate(11.10)" font-size="8.5" text-anchor="middle" dy="3.06" fill="#3a3300" stroke="#3a3300" stroke-width="0.22" stroke-opacity="0.6">50</text>
<text transform="translate(233.90,409.46) rotate(11.10)" font-size="8" text-anchor="start" dy="2.9" fill="#111" stroke="#111" stroke-width="0.22" stroke-opacity="0.6">TssA</text>
<path d="M228.16,417.79 A82,82 0 0 1 227.34,420.24 L213.67,415.42 A67.5,67.5 0 0 0 214.34,413.41 Z" fill="rgb(240,200,20)"/>
<text transform="translate(220.89,416.72) rotate(18.50)" font-size="8.5" text-anchor="middle" dy="3.06" fill="#3a3000" stroke="#3a3000" stroke-width="0.22" stroke-opacity="0.6">12</text>
<text transform="translate(231.08,420.13) rotate(18.50)" font-size="8" text-anchor="start" dy="2.9" fill="#111" stroke="#111" stroke-width="0.22" stroke-opacity="0.6">TssAFlnk</text>
<path d="M224.91,426.35 A82,82 0 0 1 223.06,430.23 L210.14,423.64 A67.5,67.5 0 0 0 211.66,420.45 Z" fill="rgb(230,142,50)"/>
<text transform="translate(217.47,425.18) rotate(25.50)" font-size="8.5" text-anchor="middle" dy="3.06" fill="#4a2a00" stroke="#4a2a00" stroke-width="0.22" stroke-opacity="0.6">20</text>
<text transform="translate(227.17,429.81) rotate(25.50)" font-size="8" text-anchor="start" dy="2.9" fill="#111" stroke="#111" stroke-width="0.22" stroke-opacity="0.6">TxFlnk</text>
<path d="M219.84,435.97 A82,82 0 0 1 219.23,436.94 L206.99,429.17 A67.5,67.5 0 0 0 207.49,428.37 Z" fill="rgb(214,94,62)"/>
<text transform="translate(213.39,432.61) rotate(32.00)" font-size="8.5" text-anchor="middle" dy="3.06" fill="#262626" stroke="#262626" stroke-width="0.22" stroke-opacity="0.6">4</text>
<text transform="translate(222.51,438.31) rotate(32.00)" font-size="8" text-anchor="start" dy="2.9" fill="#111" stroke="#111" stroke-width="0.22" stroke-opacity="0.6">Tx</text>
<path d="M215.10,442.86 A82,82 0 0 1 200.20,457.84 L191.32,446.37 A67.5,67.5 0 0 0 203.59,434.04 Z" fill="rgb(205,14,34)"/>
<text transform="translate(202.99,445.72) rotate(44.85)" font-size="8.5" text-anchor="middle" dy="3.06" fill="#ffd0d4" stroke="#ffd0d4" stroke-width="0.22" stroke-opacity="0.6">95</text>
<text transform="translate(210.62,453.30) rotate(44.85)" font-size="8" text-anchor="start" dy="2.9" fill="#111" stroke="#111" stroke-width="0.22" stroke-opacity="0.6">TxWk</text>
<path d="M196.56,460.50 A82,82 0 0 1 190.25,464.44 L183.14,451.81 A67.5,67.5 0 0 0 188.33,448.56 Z" fill="rgb(220,192,226)"/>
<text transform="translate(189.61,456.39) rotate(58.00)" font-size="8.5" text-anchor="middle" dy="3.06" fill="#4a3a55" stroke="#4a3a55" stroke-width="0.22" stroke-opacity="0.6">33</text>
<text transform="translate(195.31,465.51) rotate(58.00)" font-size="8" text-anchor="start" dy="2.9" fill="#111" stroke="#111" stroke-width="0.22" stroke-opacity="0.6">EnhG</text>
<path d="M183.48,467.85 A82,82 0 0 1 86.82,445.27 L97.99,436.03 A67.5,67.5 0 0 0 177.56,454.62 Z" fill="rgb(170,76,165)"/>
<text transform="translate(132.99,465.79) rotate(283.15)" font-size="8.5" text-anchor="middle" dy="3.06" fill="#4a1848" stroke="#4a1848" stroke-width="0.22" stroke-opacity="0.6">473</text>
<text transform="translate(130.55,476.26) rotate(283.15)" font-size="8" text-anchor="end" dy="2.9" fill="#111" stroke="#111" stroke-width="0.22" stroke-opacity="0.6">Enh</text>
<path d="M83.33,440.73 A82,82 0 0 1 82.67,439.80 L94.57,431.52 A67.5,67.5 0 0 0 95.12,432.29 Z" fill="rgb(168,24,30)"/>
<text transform="translate(80.13,442.28) rotate(324.80)" font-size="8" text-anchor="end" dy="2.9" fill="#111" stroke="#111" stroke-width="0.22" stroke-opacity="0.6">ZNFRpts</text>
<path d="M78.77,433.63 A82,82 0 0 1 78.21,432.63 L90.91,425.62 A67.5,67.5 0 0 0 91.37,426.44 Z" fill="rgb(58,58,158)"/>
<text transform="translate(75.44,434.84) rotate(330.70)" font-size="8" text-anchor="end" dy="2.9" fill="#111" stroke="#111" stroke-width="0.22" stroke-opacity="0.6">ReprPCWk</text>
<path d="M75.80,427.91 A82,82 0 0 1 75.32,426.87 L88.53,420.88 A67.5,67.5 0 0 0 88.92,421.74 Z" fill="rgb(100,42,150)"/>
<text transform="translate(72.39,428.86) rotate(335.20)" font-size="8" text-anchor="end" dy="2.9" fill="#111" stroke="#111" stroke-width="0.22" stroke-opacity="0.6">Het</text>
<path d="M72.95,421.05 A82,82 0 0 1 68.82,404.55 L83.17,402.51 A67.5,67.5 0 0 0 86.57,416.09 Z" fill="rgb(96,96,96)"/>
<text transform="translate(77.49,411.15) rotate(345.95)" font-size="8.5" text-anchor="middle" dy="3.06" fill="#e0e0e0" stroke="#e0e0e0" stroke-width="0.22" stroke-opacity="0.6">80</text>
<text transform="translate(67.06,413.76) rotate(345.95)" font-size="8" text-anchor="end" dy="2.9" fill="#111" stroke="#111" stroke-width="0.22" stroke-opacity="0.6">Quies</text>
<path d="M325.15,377.66 A67.5,67.5 0 0 1 350.05,338.84 Q391.00,392.50 445.88,431.80 A67.5,67.5 0 0 1 407.71,457.90 Q391.00,392.50 325.15,377.66 Z" fill="rgb(240,200,20)" fill-opacity="0.84" stroke="rgb(240,200,20)" stroke-opacity="0.5" stroke-width="0.3"/>
<path d="M365.31,330.08 A67.5,67.5 0 0 1 390.53,325.00 Q391.00,392.50 346.09,442.89 A67.5,67.5 0 0 1 330.34,422.11 Q391.00,392.50 365.31,330.08 Z" fill="rgb(240,200,20)" fill-opacity="0.84" stroke="rgb(240,200,20)" stroke-opacity="0.5" stroke-width="0.3"/>
<path d="M422.90,333.01 A67.5,67.5 0 0 1 439.31,345.36 Q391.00,392.50 405.41,458.44 A67.5,67.5 0 0 1 384.30,459.67 Q391.00,392.50 422.90,333.01 Z" fill="rgb(170,76,165)" fill-opacity="0.84" stroke="rgb(170,76,165)" stroke-opacity="0.5" stroke-width="0.3"/>
<path d="M445.25,352.34 A67.5,67.5 0 0 1 453.18,366.23 Q391.00,392.50 328.40,417.75 A67.5,67.5 0 0 1 324.12,401.66 Q391.00,392.50 445.25,352.34 Z" fill="rgb(170,76,165)" fill-opacity="0.84" stroke="rgb(170,76,165)" stroke-opacity="0.5" stroke-width="0.3"/>
<path d="M356.88,334.26 A67.5,67.5 0 0 1 365.31,330.08 Q391.00,392.50 371.94,457.25 A67.5,67.5 0 0 1 363.86,454.30 Q391.00,392.50 356.88,334.26 Z" fill="rgb(240,200,20)" fill-opacity="0.84" stroke="rgb(240,200,20)" stroke-opacity="0.5" stroke-width="0.3"/>
<path d="M350.05,338.84 A67.5,67.5 0 0 1 354.87,335.48 Q391.00,392.50 455.00,413.95 A67.5,67.5 0 0 1 453.00,419.20 Q391.00,392.50 350.05,338.84 Z" fill="rgb(240,200,20)" fill-opacity="0.84" stroke="rgb(240,200,20)" stroke-opacity="0.5" stroke-width="0.3"/>
<path d="M439.31,345.36 A67.5,67.5 0 0 1 443.14,349.63 Q391.00,392.50 361.91,453.41 A67.5,67.5 0 0 1 357.15,450.90 Q391.00,392.50 439.31,345.36 Z" fill="rgb(170,76,165)" fill-opacity="0.84" stroke="rgb(170,76,165)" stroke-opacity="0.5" stroke-width="0.3"/>
<path d="M407.10,326.95 A67.5,67.5 0 0 1 410.51,327.88 Q391.00,392.50 447.86,428.87 A67.5,67.5 0 0 1 445.88,431.80 Q391.00,392.50 407.10,326.95 Z" fill="rgb(205,14,34)" fill-opacity="0.84" stroke="rgb(205,14,34)" stroke-opacity="0.5" stroke-width="0.3"/>
<path d="M416.50,330.00 A67.5,67.5 0 0 1 418.67,330.93 Q391.00,392.50 407.71,457.90 A67.5,67.5 0 0 1 405.41,458.44 Q391.00,392.50 416.50,330.00 Z" fill="rgb(220,192,226)" fill-opacity="0.84" stroke="rgb(220,192,226)" stroke-opacity="0.5" stroke-width="0.3"/>
<path d="M414.31,329.15 A67.5,67.5 0 0 1 416.50,330.00 Q391.00,392.50 363.86,454.30 A67.5,67.5 0 0 1 361.91,453.41 Q391.00,392.50 414.31,329.15 Z" fill="rgb(220,192,226)" fill-opacity="0.84" stroke="rgb(220,192,226)" stroke-opacity="0.5" stroke-width="0.3"/>
<path d="M443.86,350.52 A67.5,67.5 0 0 1 445.25,352.34 Q391.00,392.50 455.68,411.80 A67.5,67.5 0 0 1 455.00,413.95 Q391.00,392.50 443.86,350.52 Z" fill="rgb(170,76,165)" fill-opacity="0.84" stroke="rgb(170,76,165)" stroke-opacity="0.5" stroke-width="0.3"/>
<path d="M456.47,376.06 A67.5,67.5 0 0 1 457.00,378.35 Q391.00,392.50 330.34,422.11 A67.5,67.5 0 0 1 329.33,419.95 Q391.00,392.50 456.47,376.06 Z" fill="rgb(222,226,104)" fill-opacity="0.84" stroke="rgb(222,226,104)" stroke-opacity="0.5" stroke-width="0.3"/>
<path d="M324.45,381.24 A67.5,67.5 0 0 1 324.65,380.08 Q391.00,392.50 449.69,425.84 A67.5,67.5 0 0 1 449.10,426.86 Q391.00,392.50 324.45,381.24 Z" fill="rgb(245,225,10)" fill-opacity="0.84" stroke="rgb(245,225,10)" stroke-opacity="0.5" stroke-width="0.3"/>
<path d="M324.26,382.41 A67.5,67.5 0 0 1 324.45,381.24 Q391.00,392.50 346.98,443.67 A67.5,67.5 0 0 1 346.09,442.89 Q391.00,392.50 324.26,382.41 Z" fill="rgb(245,225,10)" fill-opacity="0.84" stroke="rgb(245,225,10)" stroke-opacity="0.5" stroke-width="0.3"/>
<path d="M355.87,334.86 A67.5,67.5 0 0 1 356.88,334.26 Q391.00,392.50 379.74,459.05 A67.5,67.5 0 0 1 378.81,458.89 Q391.00,392.50 355.87,334.86 Z" fill="rgb(240,200,20)" fill-opacity="0.84" stroke="rgb(240,200,20)" stroke-opacity="0.5" stroke-width="0.3"/>
<path d="M354.87,335.48 A67.5,67.5 0 0 1 355.87,334.86 Q391.00,392.50 351.99,447.59 A67.5,67.5 0 0 1 351.23,447.04 Q391.00,392.50 354.87,335.48 Z" fill="rgb(240,200,20)" fill-opacity="0.84" stroke="rgb(240,200,20)" stroke-opacity="0.5" stroke-width="0.3"/>
<path d="M395.36,325.14 A67.5,67.5 0 0 1 396.53,325.23 Q391.00,392.50 449.10,426.86 A67.5,67.5 0 0 1 448.49,427.87 Q391.00,392.50 395.36,325.14 Z" fill="rgb(230,142,50)" fill-opacity="0.84" stroke="rgb(230,142,50)" stroke-opacity="0.5" stroke-width="0.3"/>
<path d="M394.18,325.07 A67.5,67.5 0 0 1 395.36,325.14 Q391.00,392.50 455.99,410.72 A67.5,67.5 0 0 1 455.68,411.80 Q391.00,392.50 394.18,325.07 Z" fill="rgb(230,142,50)" fill-opacity="0.84" stroke="rgb(230,142,50)" stroke-opacity="0.5" stroke-width="0.3"/>
<path d="M400.16,325.62 A67.5,67.5 0 0 1 401.09,325.76 Q391.00,392.50 448.49,427.87 A67.5,67.5 0 0 1 447.86,428.87 Q391.00,392.50 400.16,325.62 Z" fill="rgb(214,94,62)" fill-opacity="0.84" stroke="rgb(214,94,62)" stroke-opacity="0.5" stroke-width="0.3"/>
<path d="M405.95,326.68 A67.5,67.5 0 0 1 407.10,326.95 Q391.00,392.50 329.33,419.95 A67.5,67.5 0 0 1 328.86,418.86 Q391.00,392.50 405.95,326.68 Z" fill="rgb(205,14,34)" fill-opacity="0.84" stroke="rgb(205,14,34)" stroke-opacity="0.5" stroke-width="0.3"/>
<path d="M404.80,326.43 A67.5,67.5 0 0 1 405.95,326.68 Q391.00,392.50 456.29,409.64 A67.5,67.5 0 0 1 455.99,410.72 Q391.00,392.50 404.80,326.43 Z" fill="rgb(205,14,34)" fill-opacity="0.84" stroke="rgb(205,14,34)" stroke-opacity="0.5" stroke-width="0.3"/>
<path d="M413.20,328.75 A67.5,67.5 0 0 1 414.31,329.15 Q391.00,392.50 328.86,418.86 A67.5,67.5 0 0 1 328.40,417.75 Q391.00,392.50 413.20,328.75 Z" fill="rgb(220,192,226)" fill-opacity="0.84" stroke="rgb(220,192,226)" stroke-opacity="0.5" stroke-width="0.3"/>
<path d="M443.14,349.63 A67.5,67.5 0 0 1 443.86,350.52 Q400.34,389.89 457.95,401.08 A67.5,67.5 0 0 1 457.83,402.01 Q398.10,390.51 443.14,349.63 Z" fill="rgb(170,76,165)" fill-opacity="0.84" stroke="rgb(170,76,165)" stroke-opacity="0.5" stroke-width="0.3"/>
<path d="M454.35,369.19 A67.5,67.5 0 0 1 454.67,370.08 Q397.73,393.04 450.26,424.81 A67.5,67.5 0 0 1 449.69,425.84 Q395.37,392.86 454.35,369.19 Z" fill="rgb(152,196,60)" fill-opacity="0.84" stroke="rgb(152,196,60)" stroke-opacity="0.5" stroke-width="0.3"/>
<path d="M456.17,374.92 A67.5,67.5 0 0 1 456.47,376.06 Q405.93,394.27 450.82,423.77 A67.5,67.5 0 0 1 450.26,424.81 Q403.32,393.96 456.17,374.92 Z" fill="rgb(222,226,104)" fill-opacity="0.84" stroke="rgb(222,226,104)" stroke-opacity="0.5" stroke-width="0.3"/>
<path d="M455.85,373.78 A67.5,67.5 0 0 1 456.17,374.92 Q422.73,392.13 456.56,408.55 A67.5,67.5 0 0 1 456.29,409.64 Q420.21,392.15 455.85,373.78 Z" fill="rgb(222,226,104)" fill-opacity="0.84" stroke="rgb(222,226,104)" stroke-opacity="0.5" stroke-width="0.3"/>
<path d="M457.72,382.29 A67.5,67.5 0 0 1 457.86,383.22 Q433.11,394.30 456.82,407.45 A67.5,67.5 0 0 1 456.56,408.55 Q430.88,394.26 457.72,382.29 Z" fill="rgb(96,96,96)" fill-opacity="0.84" stroke="rgb(96,96,96)" stroke-opacity="0.5" stroke-width="0.3"/>
<path d="M309.92,380.24 A82,82 0 0 1 310.40,377.42 L324.65,380.08 A67.5,67.5 0 0 0 324.26,382.41 Z" fill="rgb(245,225,10)"/>
<text transform="translate(317.30,380.03) rotate(9.60)" font-size="8.5" text-anchor="middle" dy="3.06" fill="#3a3300" stroke="#3a3300" stroke-width="0.22" stroke-opacity="0.6">2</text>
<text transform="translate(306.70,378.24) rotate(9.60)" font-size="8" text-anchor="end" dy="2.9" fill="#111" stroke="#111" stroke-width="0.22" stroke-opacity="0.6">TssA</text>
<path d="M311.01,374.47 A82,82 0 0 1 390.43,310.50 L390.53,325.00 A67.5,67.5 0 0 0 325.15,377.66 Z" fill="rgb(240,200,20)"/>
<text transform="translate(344.11,334.29) rotate(51.15)" font-size="8.5" text-anchor="middle" dy="3.06" fill="#3a3000" stroke="#3a3000" stroke-width="0.22" stroke-opacity="0.6">77</text>
<text transform="translate(337.37,325.91) rotate(51.15)" font-size="8" text-anchor="end" dy="2.9" fill="#111" stroke="#111" stroke-width="0.22" stroke-opacity="0.6">TssAFlnk</text>
<path d="M394.86,310.59 A82,82 0 0 1 397.72,310.78 L396.53,325.23 A67.5,67.5 0 0 0 394.18,325.07 Z" fill="rgb(230,142,50)"/>
<text transform="translate(395.82,317.91) rotate(-86.30)" font-size="8.5" text-anchor="middle" dy="3.06" fill="#4a2a00" stroke="#4a2a00" stroke-width="0.22" stroke-opacity="0.6">2</text>
<text transform="translate(396.52,307.18) rotate(-86.30)" font-size="8" text-anchor="start" dy="2.9" fill="#111" stroke="#111" stroke-width="0.22" stroke-opacity="0.6">TxFlnk</text>
<path d="M402.13,311.26 A82,82 0 0 1 403.26,311.42 L401.09,325.76 A67.5,67.5 0 0 0 400.16,325.62 Z" fill="rgb(214,94,62)"/>
<text transform="translate(401.66,318.51) rotate(-81.80)" font-size="8.5" text-anchor="middle" dy="3.06" fill="#262626" stroke="#262626" stroke-width="0.22" stroke-opacity="0.6">1</text>
<text transform="translate(403.19,307.87) rotate(-81.80)" font-size="8" text-anchor="start" dy="2.9" fill="#111" stroke="#111" stroke-width="0.22" stroke-opacity="0.6">Tx</text>
<path d="M407.77,312.23 A82,82 0 0 1 414.70,314.00 L410.51,327.88 A67.5,67.5 0 0 0 404.80,326.43 Z" fill="rgb(205,14,34)"/>
<text transform="translate(409.46,320.07) rotate(-75.70)" font-size="8.5" text-anchor="middle" dy="3.06" fill="#ffd0d4" stroke="#ffd0d4" stroke-width="0.22" stroke-opacity="0.6">5</text>
<text transform="translate(412.12,309.65) rotate(-75.70)" font-size="8" text-anchor="start" dy="2.9" fill="#111" stroke="#111" stroke-width="0.22" stroke-opacity="0.6">TxWk</text>
<path d="M417.97,315.06 A82,82 0 0 1 424.61,317.71 L418.67,330.93 A67.5,67.5 0 0 0 413.20,328.75 Z" fill="rgb(220,192,226)"/>
<text transform="translate(418.64,323.05) rotate(-68.30)" font-size="8.5" text-anchor="middle" dy="3.06" fill="#4a3a55" stroke="#4a3a55" stroke-width="0.22" stroke-opacity="0.6">5</text>
<text transform="translate(422.61,313.06) rotate(-68.30)" font-size="8" text-anchor="start" dy="2.9" fill="#111" stroke="#111" stroke-width="0.22" stroke-opacity="0.6">EnhG</text>
<path d="M429.75,320.23 A82,82 0 0 1 466.54,360.59 L453.18,366.23 A67.5,67.5 0 0 0 422.90,333.01 Z" fill="rgb(170,76,165)"/>
<text transform="translate(446.24,342.14) rotate(-42.35)" font-size="8.5" text-anchor="middle" dy="3.06" fill="#4a1848" stroke="#4a1848" stroke-width="0.22" stroke-opacity="0.6">40</text>
<text transform="translate(454.19,334.90) rotate(-42.35)" font-size="8" text-anchor="start" dy="2.9" fill="#111" stroke="#111" stroke-width="0.22" stroke-opacity="0.6">Enh</text>
<path d="M467.96,364.19 A82,82 0 0 1 468.34,365.26 L454.67,370.08 A67.5,67.5 0 0 0 454.35,369.19 Z" fill="rgb(152,196,60)"/>
<text transform="translate(461.33,367.18) rotate(-19.80)" font-size="8.5" text-anchor="middle" dy="3.06" fill="#262626" stroke="#262626" stroke-width="0.22" stroke-opacity="0.6">1</text>
<text transform="translate(471.45,363.54) rotate(-19.80)" font-size="8" text-anchor="start" dy="2.9" fill="#111" stroke="#111" stroke-width="0.22" stroke-opacity="0.6">BivFlnk</text>
<path d="M469.78,369.76 A82,82 0 0 1 471.18,375.31 L457.00,378.35 A67.5,67.5 0 0 0 455.85,373.78 Z" fill="rgb(222,226,104)"/>
<text transform="translate(463.50,374.29) rotate(-14.10)" font-size="8.5" text-anchor="middle" dy="3.06" fill="#4a4a10" stroke="#4a4a10" stroke-width="0.22" stroke-opacity="0.6">4</text>
<text transform="translate(473.92,371.67) rotate(-14.10)" font-size="8" text-anchor="start" dy="2.9" fill="#111" stroke="#111" stroke-width="0.22" stroke-opacity="0.6">EnhBiv</text>
<path d="M472.06,380.10 A82,82 0 0 1 472.22,381.23 L457.86,383.22 A67.5,67.5 0 0 0 457.72,382.29 Z" fill="rgb(96,96,96)"/>
<text transform="translate(464.97,381.71) rotate(-8.30)" font-size="8.5" text-anchor="middle" dy="3.06" fill="#262626" stroke="#262626" stroke-width="0.22" stroke-opacity="0.6">1</text>
<text transform="translate(475.60,380.16) rotate(-8.30)" font-size="8" text-anchor="start" dy="2.9" fill="#111" stroke="#111" stroke-width="0.22" stroke-opacity="0.6">Quies</text>
<path d="M472.34,402.92 A82,82 0 0 1 472.18,404.05 L457.83,402.01 A67.5,67.5 0 0 0 457.95,401.08 Z" fill="rgb(245,225,10)"/>
<text transform="translate(465.08,402.52) rotate(7.70)" font-size="8.5" text-anchor="middle" dy="3.06" fill="#262626" stroke="#262626" stroke-width="0.22" stroke-opacity="0.6">1</text>
<text transform="translate(475.73,403.96) rotate(7.70)" font-size="8" text-anchor="start" dy="2.9" fill="#111" stroke="#111" stroke-width="0.22" stroke-opacity="0.6">TssA</text>
<path d="M470.96,410.67 A82,82 0 0 1 466.31,424.93 L453.00,419.20 A67.5,67.5 0 0 0 456.82,407.45 Z" fill="rgb(214,94,62)"/>
<text transform="translate(462.07,415.66) rotate(18.05)" font-size="8.5" text-anchor="middle" dy="3.06" fill="#5a1a08" stroke="#5a1a08" stroke-width="0.22" stroke-opacity="0.6">11</text>
<text transform="translate(472.29,418.99) rotate(18.05)" font-size="8" text-anchor="start" dy="2.9" fill="#111" stroke="#111" stroke-width="0.22" stroke-opacity="0.6">Tx</text>
<path d="M463.67,430.49 A82,82 0 0 1 382.86,474.09 L384.30,459.67 A67.5,67.5 0 0 0 450.82,423.77 Z" fill="rgb(205,14,34)"/>
<text transform="translate(426.50,458.28) rotate(61.65)" font-size="8.5" text-anchor="middle" dy="3.06" fill="#ffd0d4" stroke="#ffd0d4" stroke-width="0.22" stroke-opacity="0.6">68</text>
<text transform="translate(431.60,467.75) rotate(61.65)" font-size="8" text-anchor="start" dy="2.9" fill="#111" stroke="#111" stroke-width="0.22" stroke-opacity="0.6">TxWk</text>
<path d="M377.32,473.35 A82,82 0 0 1 376.20,473.15 L378.81,458.89 A67.5,67.5 0 0 0 379.74,459.05 Z" fill="rgb(220,192,226)"/>
<text transform="translate(378.02,466.11) rotate(280.00)" font-size="8.5" text-anchor="middle" dy="3.06" fill="#262626" stroke="#262626" stroke-width="0.22" stroke-opacity="0.6">1</text>
<text transform="translate(376.15,476.70) rotate(280.00)" font-size="8" text-anchor="end" dy="2.9" fill="#111" stroke="#111" stroke-width="0.22" stroke-opacity="0.6">EnhG</text>
<path d="M367.85,471.16 A82,82 0 0 1 349.88,463.44 L357.15,450.90 A67.5,67.5 0 0 0 371.94,457.25 Z" fill="rgb(170,76,165)"/>
<text transform="translate(361.49,461.18) rotate(293.25)" font-size="8.5" text-anchor="middle" dy="3.06" fill="#4a1848" stroke="#4a1848" stroke-width="0.22" stroke-opacity="0.6">15</text>
<text transform="translate(357.25,471.06) rotate(293.25)" font-size="8" text-anchor="end" dy="2.9" fill="#111" stroke="#111" stroke-width="0.22" stroke-opacity="0.6">Enh</text>
<path d="M343.62,459.42 A82,82 0 0 1 342.69,458.76 L351.23,447.04 A67.5,67.5 0 0 0 351.99,447.59 Z" fill="rgb(58,58,158)"/>
<text transform="translate(341.11,461.93) rotate(305.70)" font-size="8" text-anchor="end" dy="2.9" fill="#111" stroke="#111" stroke-width="0.22" stroke-opacity="0.6">ReprPCWk</text>
<path d="M337.53,454.67 A82,82 0 0 1 309.76,403.63 L324.12,401.66 A67.5,67.5 0 0 0 346.98,443.67 Z" fill="rgb(96,96,96)"/>
<text transform="translate(325.34,428.22) rotate(331.45)" font-size="8.5" text-anchor="middle" dy="3.06" fill="#e0e0e0" stroke="#e0e0e0" stroke-width="0.22" stroke-opacity="0.6">41</text>
<text transform="translate(315.90,433.36) rotate(331.45)" font-size="8" text-anchor="end" dy="2.9" fill="#111" stroke="#111" stroke-width="0.22" stroke-opacity="0.6">Quies</text>
<rect x="7.20" y="391.2" width="9.00" height="2.2" fill="#000"/>
<rect x="21.67" y="391.2" width="9.00" height="2.2" fill="#000"/>
<rect x="36.14" y="391.2" width="9.00" height="2.2" fill="#000"/>
<rect x="50.61" y="391.2" width="9.00" height="2.2" fill="#000"/>
<rect x="65.08" y="391.2" width="9.00" height="2.2" fill="#000"/>
<rect x="79.55" y="391.2" width="9.00" height="2.2" fill="#000"/>
<rect x="94.02" y="391.2" width="9.00" height="2.2" fill="#000"/>
<rect x="108.49" y="391.2" width="9.00" height="2.2" fill="#000"/>
<rect x="189.00" y="391.2" width="0.84" height="2.2" fill="#000"/>
<rect x="195.31" y="391.2" width="9.00" height="2.2" fill="#000"/>
<rect x="209.78" y="391.2" width="9.00" height="2.2" fill="#000"/>
<rect x="224.25" y="391.2" width="9.00" height="2.2" fill="#000"/>
<rect x="238.72" y="391.2" width="9.00" height="2.2" fill="#000"/>
<rect x="253.19" y="391.2" width="9.00" height="2.2" fill="#000"/>
<rect x="267.66" y="391.2" width="9.00" height="2.2" fill="#000"/>
<rect x="282.13" y="391.2" width="9.00" height="2.2" fill="#000"/>
<rect x="296.60" y="391.2" width="9.00" height="2.2" fill="#000"/>
<rect x="311.07" y="391.2" width="9.00" height="2.2" fill="#000"/>
<rect x="325.54" y="391.2" width="9.00" height="2.2" fill="#000"/>
<rect x="340.01" y="391.2" width="9.00" height="2.2" fill="#000"/>
<rect x="426.83" y="391.2" width="9.00" height="2.2" fill="#000"/>
<rect x="441.30" y="391.2" width="9.00" height="2.2" fill="#000"/>
<rect x="455.77" y="391.2" width="9.00" height="2.2" fill="#000"/>
<rect x="470.24" y="391.2" width="9.00" height="2.2" fill="#000"/>
<rect x="484.71" y="391.2" width="9.00" height="2.2" fill="#000"/>
<rect x="499.18" y="391.2" width="9.00" height="2.2" fill="#000"/>
<text x="7.3" y="527.2" font-size="12" font-weight="bold" fill="#000" stroke="#000" stroke-width="0.22" stroke-opacity="0.6">C</text>
<text x="65.6" y="539.3" font-size="8.4" fill="#222" textLength="138.7" lengthAdjust="spacingAndGlyphs" stroke="#222" stroke-width="0.22" stroke-opacity="0.6">DMRs demethylated in BasoE (n=781)</text>
<text x="318.0" y="539.4" font-size="8.4" fill="#222" textLength="129.8" lengthAdjust="spacingAndGlyphs" stroke="#222" stroke-width="0.22" stroke-opacity="0.6">DMRs methylated in BasoE (n=138)</text>
<line x1="7.5" y1="544.5" x2="503" y2="544.5" stroke="#1a1a1a" stroke-width="1.15"/>
<line x1="7.5" y1="565.9" x2="503" y2="565.9" stroke="#1a1a1a" stroke-width="1.15"/>
<line x1="7.5" y1="653.6" x2="503" y2="653.6" stroke="#1a1a1a" stroke-width="1.15"/>
<line x1="263.8" y1="529.2" x2="263.8" y2="653.6" stroke="#111" stroke-width="1.2"/>
<text x="85.4" y="577.4" font-size="8" fill="#222" stroke="#222" stroke-width="0.22" stroke-opacity="0.6">GATA</text>
<text x="174.2" y="577.4" font-size="8" text-anchor="end" fill="#222" stroke="#222" stroke-width="0.22" stroke-opacity="0.6">1e-163</text>
<text x="202.8" y="577.4" font-size="8" text-anchor="end" fill="#222" stroke="#222" stroke-width="0.22" stroke-opacity="0.6">59.92</text>
<text x="242.8" y="577.4" font-size="8" text-anchor="end" fill="#222" stroke="#222" stroke-width="0.22" stroke-opacity="0.6">16.54</text>
<text x="85.4" y="591.7" font-size="8" fill="#222" stroke="#222" stroke-width="0.22" stroke-opacity="0.6">KLF</text>
<text x="174.2" y="591.7" font-size="8" text-anchor="end" fill="#222" stroke="#222" stroke-width="0.22" stroke-opacity="0.6">1e-22</text>
<text x="202.8" y="591.7" font-size="8" text-anchor="end" fill="#222" stroke="#222" stroke-width="0.22" stroke-opacity="0.6">18.44</text>
<text x="242.8" y="591.7" font-size="8" text-anchor="end" fill="#222" stroke="#222" stroke-width="0.22" stroke-opacity="0.6">7.48</text>
<text x="85.4" y="606.0" font-size="8" fill="#222" stroke="#222" stroke-width="0.22" stroke-opacity="0.6">AP-1</text>
<text x="174.2" y="606.0" font-size="8" text-anchor="end" fill="#222" stroke="#222" stroke-width="0.22" stroke-opacity="0.6">1e-22</text>
<text x="202.8" y="606.0" font-size="8" text-anchor="end" fill="#222" stroke="#222" stroke-width="0.22" stroke-opacity="0.6">21.00</text>
<text x="242.8" y="606.0" font-size="8" text-anchor="end" fill="#222" stroke="#222" stroke-width="0.22" stroke-opacity="0.6">9.34</text>
<text x="85.4" y="620.3" font-size="8" fill="#222" stroke="#222" stroke-width="0.22" stroke-opacity="0.6">ESSRG/NKX2.5</text>
<text x="174.2" y="620.3" font-size="8" text-anchor="end" fill="#222" stroke="#222" stroke-width="0.22" stroke-opacity="0.6">1e-15</text>
<text x="202.8" y="620.3" font-size="8" text-anchor="end" fill="#222" stroke="#222" stroke-width="0.22" stroke-opacity="0.6">1.54</text>
<text x="242.8" y="620.3" font-size="8" text-anchor="end" fill="#222" stroke="#222" stroke-width="0.22" stroke-opacity="0.6">0.04</text>
<text x="85.4" y="634.8" font-size="8" fill="#222" stroke="#222" stroke-width="0.22" stroke-opacity="0.6">RUNX</text>
<text x="174.2" y="634.8" font-size="8" text-anchor="end" fill="#222" stroke="#222" stroke-width="0.22" stroke-opacity="0.6">1e-14</text>
<text x="202.8" y="634.8" font-size="8" text-anchor="end" fill="#222" stroke="#222" stroke-width="0.22" stroke-opacity="0.6">2.05</text>
<text x="242.8" y="634.8" font-size="8" text-anchor="end" fill="#222" stroke="#222" stroke-width="0.22" stroke-opacity="0.6">0.11</text>
<text x="85.4" y="649.6" font-size="8" fill="#222" stroke="#222" stroke-width="0.22" stroke-opacity="0.6">MEOX1/EVX1</text>
<text x="174.2" y="649.6" font-size="8" text-anchor="end" fill="#222" stroke="#222" stroke-width="0.22" stroke-opacity="0.6">1e-13</text>
<text x="202.8" y="649.6" font-size="8" text-anchor="end" fill="#222" stroke="#222" stroke-width="0.22" stroke-opacity="0.6">1.66</text>
<text x="242.8" y="649.6" font-size="8" text-anchor="end" fill="#222" stroke="#222" stroke-width="0.22" stroke-opacity="0.6">0.07</text>
<text x="102.4" y="554.3" font-size="8" text-anchor="middle" fill="#222" stroke="#222" stroke-width="0.22" stroke-opacity="0.6">Best motif</text>
<text x="102.4" y="563.4" font-size="8" text-anchor="middle" fill="#222" stroke="#222" stroke-width="0.22" stroke-opacity="0.6">match</text>
<text x="161.3" y="554.3" font-size="8" text-anchor="middle" fill="#222" stroke="#222" stroke-width="0.22" stroke-opacity="0.6">P-</text>
<text x="161.3" y="563.4" font-size="8" text-anchor="middle" fill="#222" stroke="#222" stroke-width="0.22" stroke-opacity="0.6">value</text>
<text x="194.5" y="554.3" font-size="8" text-anchor="middle" fill="#222" stroke="#222" stroke-width="0.22" stroke-opacity="0.6">% of</text>
<text x="194.5" y="563.4" font-size="8" text-anchor="middle" fill="#222" stroke="#222" stroke-width="0.22" stroke-opacity="0.6">Targets</text>
<text x="232.7" y="554.3" font-size="8" text-anchor="middle" fill="#222" stroke="#222" stroke-width="0.22" stroke-opacity="0.6">% of</text>
<text x="232.7" y="563.4" font-size="8" text-anchor="middle" fill="#222" stroke="#222" stroke-width="0.22" stroke-opacity="0.6">Background</text>
<text x="349.2" y="577.4" font-size="8" fill="#222" stroke="#222" stroke-width="0.22" stroke-opacity="0.6">ERG/ETS</text>
<text x="421.0" y="577.4" font-size="8" text-anchor="end" fill="#222" stroke="#222" stroke-width="0.22" stroke-opacity="0.6">1e-19</text>
<text x="448.7" y="577.4" font-size="8" text-anchor="end" fill="#222" stroke="#222" stroke-width="0.22" stroke-opacity="0.6">66.12</text>
<text x="489.1" y="577.4" font-size="8" text-anchor="end" fill="#222" stroke="#222" stroke-width="0.22" stroke-opacity="0.6">30.36</text>
<text x="349.2" y="591.7" font-size="8" fill="#222" stroke="#222" stroke-width="0.22" stroke-opacity="0.6">ARID3A</text>
<text x="421.0" y="591.7" font-size="8" text-anchor="end" fill="#222" stroke="#222" stroke-width="0.22" stroke-opacity="0.6">1e-10</text>
<text x="448.7" y="591.7" font-size="8" text-anchor="end" fill="#222" stroke="#222" stroke-width="0.22" stroke-opacity="0.6">19.57</text>
<text x="489.1" y="591.7" font-size="8" text-anchor="end" fill="#222" stroke="#222" stroke-width="0.22" stroke-opacity="0.6">4.26</text>
<text x="349.2" y="606.0" font-size="8" fill="#222" stroke="#222" stroke-width="0.22" stroke-opacity="0.6">AR/NR</text>
<text x="421.0" y="606.0" font-size="8" text-anchor="end" fill="#222" stroke="#222" stroke-width="0.22" stroke-opacity="0.6">1e-9</text>
<text x="448.7" y="606.0" font-size="8" text-anchor="end" fill="#222" stroke="#222" stroke-width="0.22" stroke-opacity="0.6">9.42</text>
<text x="489.1" y="606.0" font-size="8" text-anchor="end" fill="#222" stroke="#222" stroke-width="0.22" stroke-opacity="0.6">0.94</text>
<text x="349.2" y="620.3" font-size="8" fill="#222" stroke="#222" stroke-width="0.22" stroke-opacity="0.6">SMAD2/MAD</text>
<text x="421.0" y="620.3" font-size="8" text-anchor="end" fill="#222" stroke="#222" stroke-width="0.22" stroke-opacity="0.6">1e-8</text>
<text x="448.7" y="620.3" font-size="8" text-anchor="end" fill="#222" stroke="#222" stroke-width="0.22" stroke-opacity="0.6">32.61</text>
<text x="489.1" y="620.3" font-size="8" text-anchor="end" fill="#222" stroke="#222" stroke-width="0.22" stroke-opacity="0.6">13.20</text>
<text x="349.2" y="634.8" font-size="8" fill="#222" stroke="#222" stroke-width="0.22" stroke-opacity="0.6">MZF1</text>
<text x="421.0" y="634.8" font-size="8" text-anchor="end" fill="#222" stroke="#222" stroke-width="0.22" stroke-opacity="0.6">1e-7</text>
<text x="448.7" y="634.8" font-size="8" text-anchor="end" fill="#222" stroke="#222" stroke-width="0.22" stroke-opacity="0.6">9.42</text>
<text x="489.1" y="634.8" font-size="8" text-anchor="end" fill="#222" stroke="#222" stroke-width="0.22" stroke-opacity="0.6">1.23</text>
<text x="349.2" y="649.6" font-size="8" fill="#222" stroke="#222" stroke-width="0.22" stroke-opacity="0.6">MYB</text>
<text x="421.0" y="649.6" font-size="8" text-anchor="end" fill="#222" stroke="#222" stroke-width="0.22" stroke-opacity="0.6">1e-6</text>
<text x="448.7" y="649.6" font-size="8" text-anchor="end" fill="#222" stroke="#222" stroke-width="0.22" stroke-opacity="0.6">2.90</text>
<text x="489.1" y="649.6" font-size="8" text-anchor="end" fill="#222" stroke="#222" stroke-width="0.22" stroke-opacity="0.6">0.05</text>
<text x="365.0" y="554.3" font-size="8" text-anchor="middle" fill="#222" stroke="#222" stroke-width="0.22" stroke-opacity="0.6">Best motif</text>
<text x="365.0" y="563.4" font-size="8" text-anchor="middle" fill="#222" stroke="#222" stroke-width="0.22" stroke-opacity="0.6">match</text>
<text x="410.9" y="554.3" font-size="8" text-anchor="middle" fill="#222" stroke="#222" stroke-width="0.22" stroke-opacity="0.6">P-</text>
<text x="410.9" y="563.4" font-size="8" text-anchor="middle" fill="#222" stroke="#222" stroke-width="0.22" stroke-opacity="0.6">value</text>
<text x="438.3" y="554.3" font-size="8" text-anchor="middle" fill="#222" stroke="#222" stroke-width="0.22" stroke-opacity="0.6">% of</text>
<text x="438.3" y="563.4" font-size="8" text-anchor="middle" fill="#222" stroke="#222" stroke-width="0.22" stroke-opacity="0.6">Targets</text>
<text x="478.5" y="554.3" font-size="8" text-anchor="middle" fill="#222" stroke="#222" stroke-width="0.22" stroke-opacity="0.6">% of</text>
<text x="478.5" y="563.4" font-size="8" text-anchor="middle" fill="#222" stroke="#222" stroke-width="0.22" stroke-opacity="0.6">Background</text>
<text transform="translate(11.38,578.90) scale(0.0882,0.0291)" font-size="100" font-weight="bold" fill="rgb(96,172,64)">A</text>
<text transform="translate(11.49,576.90) scale(0.1005,0.0291)" font-size="100" font-weight="bold" fill="rgb(184,24,36)">T</text>
<text transform="translate(11.23,574.86) scale(0.0905,0.0424)" font-size="100" font-weight="bold" fill="rgb(48,48,150)">C</text>
<text transform="translate(11.24,571.86) scale(0.0877,0.0424)" font-size="100" font-weight="bold" fill="rgb(232,178,36)">G</text>
<text transform="translate(17.20,578.90) scale(0.1005,0.0291)" font-size="100" font-weight="bold" fill="rgb(184,24,36)">T</text>
<text transform="translate(17.09,576.90) scale(0.0882,0.0291)" font-size="100" font-weight="bold" fill="rgb(96,172,64)">A</text>
<text transform="translate(16.94,574.87) scale(0.0905,0.0283)" font-size="100" font-weight="bold" fill="rgb(48,48,150)">C</text>
<text transform="translate(16.95,572.85) scale(0.0877,0.0566)" font-size="100" font-weight="bold" fill="rgb(232,178,36)">G</text>
<text transform="translate(22.65,578.89) scale(0.0905,0.0141)" font-size="100" font-weight="bold" fill="rgb(48,48,150)">C</text>
<text transform="translate(22.66,577.89) scale(0.0877,0.0141)" font-size="100" font-weight="bold" fill="rgb(232,178,36)">G</text>
<text transform="translate(22.80,576.90) scale(0.0882,0.1163)" font-size="100" font-weight="bold" fill="rgb(96,172,64)">A</text>
<text transform="translate(28.51,578.90) scale(0.0882,0.0145)" font-size="100" font-weight="bold" fill="rgb(96,172,64)">A</text>
<text transform="translate(28.37,577.79) scale(0.0877,0.1273)" font-size="100" font-weight="bold" fill="rgb(232,178,36)">G</text>
<text transform="translate(34.22,578.90) scale(0.0882,0.1453)" font-size="100" font-weight="bold" fill="rgb(96,172,64)">A</text>
<text transform="translate(40.04,578.90) scale(0.1005,0.1453)" font-size="100" font-weight="bold" fill="rgb(184,24,36)">T</text>
<text transform="translate(45.64,578.90) scale(0.0882,0.1453)" font-size="100" font-weight="bold" fill="rgb(96,172,64)">A</text>
<text transform="translate(51.21,578.89) scale(0.0877,0.0141)" font-size="100" font-weight="bold" fill="rgb(232,178,36)">G</text>
<text transform="translate(51.35,577.90) scale(0.0882,0.1308)" font-size="100" font-weight="bold" fill="rgb(96,172,64)">A</text>
<text transform="translate(57.17,578.90) scale(0.1005,0.0291)" font-size="100" font-weight="bold" fill="rgb(184,24,36)">T</text>
<text transform="translate(57.06,576.90) scale(0.0882,0.0291)" font-size="100" font-weight="bold" fill="rgb(96,172,64)">A</text>
<text transform="translate(56.91,574.87) scale(0.0905,0.0283)" font-size="100" font-weight="bold" fill="rgb(48,48,150)">C</text>
<text transform="translate(56.92,572.85) scale(0.0877,0.0566)" font-size="100" font-weight="bold" fill="rgb(232,178,36)">G</text>
<text transform="translate(62.77,578.90) scale(0.0882,0.0291)" font-size="100" font-weight="bold" fill="rgb(96,172,64)">A</text>
<text transform="translate(62.88,576.90) scale(0.1005,0.0291)" font-size="100" font-weight="bold" fill="rgb(184,24,36)">T</text>
<text transform="translate(62.62,574.87) scale(0.0905,0.0283)" font-size="100" font-weight="bold" fill="rgb(48,48,150)">C</text>
<text transform="translate(62.63,572.85) scale(0.0877,0.0566)" font-size="100" font-weight="bold" fill="rgb(232,178,36)">G</text>
<text transform="translate(12.34,594.09) scale(0.0881,0.0156)" font-size="100" font-weight="bold" fill="rgb(48,48,150)">C</text>
<text transform="translate(12.49,593.00) scale(0.0858,0.0160)" font-size="100" font-weight="bold" fill="rgb(96,172,64)">A</text>
<text transform="translate(12.59,591.90) scale(0.0978,0.1279)" font-size="100" font-weight="bold" fill="rgb(184,24,36)">T</text>
<text transform="translate(18.04,594.10) scale(0.0858,0.0160)" font-size="100" font-weight="bold" fill="rgb(96,172,64)">A</text>
<text transform="translate(17.90,592.87) scale(0.0853,0.1400)" font-size="100" font-weight="bold" fill="rgb(232,178,36)">G</text>
<text transform="translate(23.45,593.96) scale(0.0853,0.1556)" font-size="100" font-weight="bold" fill="rgb(232,178,36)">G</text>
<text transform="translate(29.00,593.96) scale(0.0853,0.1556)" font-size="100" font-weight="bold" fill="rgb(232,178,36)">G</text>
<text transform="translate(34.69,594.10) scale(0.0858,0.0160)" font-size="100" font-weight="bold" fill="rgb(96,172,64)">A</text>
<text transform="translate(34.54,592.99) scale(0.0881,0.0156)" font-size="100" font-weight="bold" fill="rgb(48,48,150)">C</text>
<text transform="translate(34.79,591.90) scale(0.0978,0.1279)" font-size="100" font-weight="bold" fill="rgb(184,24,36)">T</text>
<text transform="translate(40.10,593.96) scale(0.0853,0.1556)" font-size="100" font-weight="bold" fill="rgb(232,178,36)">G</text>
<text transform="translate(45.89,594.10) scale(0.0978,0.1599)" font-size="100" font-weight="bold" fill="rgb(184,24,36)">T</text>
<text transform="translate(51.20,593.96) scale(0.0853,0.1556)" font-size="100" font-weight="bold" fill="rgb(232,178,36)">G</text>
<text transform="translate(56.75,593.96) scale(0.0853,0.1556)" font-size="100" font-weight="bold" fill="rgb(232,178,36)">G</text>
<text transform="translate(62.29,593.96) scale(0.0881,0.1556)" font-size="100" font-weight="bold" fill="rgb(48,48,150)">C</text>
<text transform="translate(67.99,594.10) scale(0.0858,0.0160)" font-size="100" font-weight="bold" fill="rgb(96,172,64)">A</text>
<text transform="translate(68.09,593.00) scale(0.0978,0.0160)" font-size="100" font-weight="bold" fill="rgb(184,24,36)">T</text>
<text transform="translate(67.84,591.79) scale(0.0881,0.1245)" font-size="100" font-weight="bold" fill="rgb(48,48,150)">C</text>
<text transform="translate(73.64,594.10) scale(0.0978,0.0320)" font-size="100" font-weight="bold" fill="rgb(184,24,36)">T</text>
<text transform="translate(73.39,591.86) scale(0.0881,0.0467)" font-size="100" font-weight="bold" fill="rgb(48,48,150)">C</text>
<text transform="translate(73.40,588.53) scale(0.0853,0.0778)" font-size="100" font-weight="bold" fill="rgb(232,178,36)">G</text>
<text transform="translate(11.89,608.70) scale(0.0990,0.0326)" font-size="100" font-weight="bold" fill="rgb(184,24,36)">T</text>
<text transform="translate(11.78,606.46) scale(0.0869,0.0326)" font-size="100" font-weight="bold" fill="rgb(96,172,64)">A</text>
<text transform="translate(11.63,604.19) scale(0.0891,0.0317)" font-size="100" font-weight="bold" fill="rgb(48,48,150)">C</text>
<text transform="translate(11.65,601.92) scale(0.0864,0.0634)" font-size="100" font-weight="bold" fill="rgb(232,178,36)">G</text>
<text transform="translate(17.40,608.70) scale(0.0869,0.0326)" font-size="100" font-weight="bold" fill="rgb(96,172,64)">A</text>
<text transform="translate(17.25,606.43) scale(0.0891,0.0317)" font-size="100" font-weight="bold" fill="rgb(48,48,150)">C</text>
<text transform="translate(17.51,604.22) scale(0.0990,0.0488)" font-size="100" font-weight="bold" fill="rgb(184,24,36)">T</text>
<text transform="translate(17.40,600.86) scale(0.0869,0.0488)" font-size="100" font-weight="bold" fill="rgb(96,172,64)">A</text>
<text transform="translate(22.87,608.69) scale(0.0891,0.0158)" font-size="100" font-weight="bold" fill="rgb(48,48,150)">C</text>
<text transform="translate(23.02,607.58) scale(0.0869,0.1465)" font-size="100" font-weight="bold" fill="rgb(96,172,64)">A</text>
<text transform="translate(28.75,608.70) scale(0.0990,0.1628)" font-size="100" font-weight="bold" fill="rgb(184,24,36)">T</text>
<text transform="translate(34.13,608.56) scale(0.0864,0.1584)" font-size="100" font-weight="bold" fill="rgb(232,178,36)">G</text>
<text transform="translate(39.73,608.67) scale(0.0891,0.0317)" font-size="100" font-weight="bold" fill="rgb(48,48,150)">C</text>
<text transform="translate(39.88,606.46) scale(0.0869,0.1302)" font-size="100" font-weight="bold" fill="rgb(96,172,64)">A</text>
<text transform="translate(45.35,608.64) scale(0.0891,0.0634)" font-size="100" font-weight="bold" fill="rgb(48,48,150)">C</text>
<text transform="translate(45.37,604.13) scale(0.0864,0.0950)" font-size="100" font-weight="bold" fill="rgb(232,178,36)">G</text>
<text transform="translate(51.23,608.70) scale(0.0990,0.1628)" font-size="100" font-weight="bold" fill="rgb(184,24,36)">T</text>
<text transform="translate(56.59,608.56) scale(0.0891,0.1584)" font-size="100" font-weight="bold" fill="rgb(48,48,150)">C</text>
<text transform="translate(62.36,608.70) scale(0.0869,0.1628)" font-size="100" font-weight="bold" fill="rgb(96,172,64)">A</text>
<text transform="translate(11.64,623.25) scale(0.0888,0.1641)" font-size="100" font-weight="bold" fill="rgb(232,178,36)">G</text>
<text transform="translate(17.56,623.40) scale(0.0893,0.1686)" font-size="100" font-weight="bold" fill="rgb(96,172,64)">A</text>
<text transform="translate(23.19,623.25) scale(0.0916,0.1641)" font-size="100" font-weight="bold" fill="rgb(48,48,150)">C</text>
<text transform="translate(28.97,623.25) scale(0.0916,0.1641)" font-size="100" font-weight="bold" fill="rgb(48,48,150)">C</text>
<text transform="translate(34.91,623.40) scale(0.0893,0.0169)" font-size="100" font-weight="bold" fill="rgb(96,172,64)">A</text>
<text transform="translate(34.76,622.23) scale(0.0916,0.0164)" font-size="100" font-weight="bold" fill="rgb(48,48,150)">C</text>
<text transform="translate(35.02,621.08) scale(0.1018,0.1349)" font-size="100" font-weight="bold" fill="rgb(184,24,36)">T</text>
<text transform="translate(40.80,623.40) scale(0.1018,0.1686)" font-size="100" font-weight="bold" fill="rgb(184,24,36)">T</text>
<text transform="translate(46.32,623.25) scale(0.0916,0.1641)" font-size="100" font-weight="bold" fill="rgb(48,48,150)">C</text>
<text transform="translate(52.37,623.40) scale(0.1018,0.1686)" font-size="100" font-weight="bold" fill="rgb(184,24,36)">T</text>
<text transform="translate(57.89,623.25) scale(0.0916,0.1641)" font-size="100" font-weight="bold" fill="rgb(48,48,150)">C</text>
<text transform="translate(63.83,623.40) scale(0.0893,0.1686)" font-size="100" font-weight="bold" fill="rgb(96,172,64)">A</text>
<text transform="translate(69.61,623.40) scale(0.0893,0.1686)" font-size="100" font-weight="bold" fill="rgb(96,172,64)">A</text>
<text transform="translate(75.25,623.25) scale(0.0888,0.1641)" font-size="100" font-weight="bold" fill="rgb(232,178,36)">G</text>
<text transform="translate(11.64,637.36) scale(0.0888,0.1556)" font-size="100" font-weight="bold" fill="rgb(232,178,36)">G</text>
<text transform="translate(17.67,637.50) scale(0.1018,0.1599)" font-size="100" font-weight="bold" fill="rgb(184,24,36)">T</text>
<text transform="translate(23.34,637.50) scale(0.0893,0.1599)" font-size="100" font-weight="bold" fill="rgb(96,172,64)">A</text>
<text transform="translate(29.13,637.50) scale(0.0893,0.1599)" font-size="100" font-weight="bold" fill="rgb(96,172,64)">A</text>
<text transform="translate(34.76,637.36) scale(0.0916,0.1556)" font-size="100" font-weight="bold" fill="rgb(48,48,150)">C</text>
<text transform="translate(40.54,637.36) scale(0.0916,0.1556)" font-size="100" font-weight="bold" fill="rgb(48,48,150)">C</text>
<text transform="translate(46.48,637.50) scale(0.0893,0.1599)" font-size="100" font-weight="bold" fill="rgb(96,172,64)">A</text>
<text transform="translate(52.11,637.36) scale(0.0916,0.1556)" font-size="100" font-weight="bold" fill="rgb(48,48,150)">C</text>
<text transform="translate(57.89,637.36) scale(0.0916,0.1556)" font-size="100" font-weight="bold" fill="rgb(48,48,150)">C</text>
<text transform="translate(63.83,637.50) scale(0.0893,0.1599)" font-size="100" font-weight="bold" fill="rgb(96,172,64)">A</text>
<text transform="translate(69.47,637.36) scale(0.0888,0.1556)" font-size="100" font-weight="bold" fill="rgb(232,178,36)">G</text>
<text transform="translate(75.39,637.50) scale(0.0893,0.1599)" font-size="100" font-weight="bold" fill="rgb(96,172,64)">A</text>
<text transform="translate(11.63,650.77) scale(0.0891,0.1400)" font-size="100" font-weight="bold" fill="rgb(48,48,150)">C</text>
<text transform="translate(17.27,650.77) scale(0.0864,0.1400)" font-size="100" font-weight="bold" fill="rgb(232,178,36)">G</text>
<text transform="translate(22.89,650.77) scale(0.0864,0.1400)" font-size="100" font-weight="bold" fill="rgb(232,178,36)">G</text>
<text transform="translate(28.75,650.90) scale(0.0990,0.1439)" font-size="100" font-weight="bold" fill="rgb(184,24,36)">T</text>
<text transform="translate(34.26,650.90) scale(0.0869,0.1439)" font-size="100" font-weight="bold" fill="rgb(96,172,64)">A</text>
<text transform="translate(39.88,650.90) scale(0.0869,0.1439)" font-size="100" font-weight="bold" fill="rgb(96,172,64)">A</text>
<text transform="translate(45.61,650.90) scale(0.0990,0.1439)" font-size="100" font-weight="bold" fill="rgb(184,24,36)">T</text>
<text transform="translate(50.97,650.77) scale(0.0891,0.1400)" font-size="100" font-weight="bold" fill="rgb(48,48,150)">C</text>
<text transform="translate(56.74,650.90) scale(0.0869,0.1439)" font-size="100" font-weight="bold" fill="rgb(96,172,64)">A</text>
<text transform="translate(62.23,650.77) scale(0.0864,0.1400)" font-size="100" font-weight="bold" fill="rgb(232,178,36)">G</text>
<text transform="translate(275.88,579.20) scale(0.0879,0.0320)" font-size="100" font-weight="bold" fill="rgb(96,172,64)">A</text>
<text transform="translate(275.73,576.96) scale(0.0902,0.0467)" font-size="100" font-weight="bold" fill="rgb(48,48,150)">C</text>
<text transform="translate(275.74,573.63) scale(0.0874,0.0778)" font-size="100" font-weight="bold" fill="rgb(232,178,36)">G</text>
<text transform="translate(281.42,579.17) scale(0.0902,0.0311)" font-size="100" font-weight="bold" fill="rgb(48,48,150)">C</text>
<text transform="translate(281.57,577.00) scale(0.0879,0.0480)" font-size="100" font-weight="bold" fill="rgb(96,172,64)">A</text>
<text transform="translate(281.43,573.63) scale(0.0874,0.0778)" font-size="100" font-weight="bold" fill="rgb(232,178,36)">G</text>
<text transform="translate(287.26,579.20) scale(0.0879,0.0799)" font-size="100" font-weight="bold" fill="rgb(96,172,64)">A</text>
<text transform="translate(287.11,573.63) scale(0.0902,0.0778)" font-size="100" font-weight="bold" fill="rgb(48,48,150)">C</text>
<text transform="translate(292.95,579.20) scale(0.0879,0.1599)" font-size="100" font-weight="bold" fill="rgb(96,172,64)">A</text>
<text transform="translate(298.50,579.06) scale(0.0874,0.1556)" font-size="100" font-weight="bold" fill="rgb(232,178,36)">G</text>
<text transform="translate(304.19,579.06) scale(0.0874,0.1556)" font-size="100" font-weight="bold" fill="rgb(232,178,36)">G</text>
<text transform="translate(310.02,579.20) scale(0.0879,0.1599)" font-size="100" font-weight="bold" fill="rgb(96,172,64)">A</text>
<text transform="translate(315.71,579.20) scale(0.0879,0.1599)" font-size="100" font-weight="bold" fill="rgb(96,172,64)">A</text>
<text transform="translate(321.25,579.17) scale(0.0902,0.0311)" font-size="100" font-weight="bold" fill="rgb(48,48,150)">C</text>
<text transform="translate(321.51,577.00) scale(0.1002,0.0480)" font-size="100" font-weight="bold" fill="rgb(184,24,36)">T</text>
<text transform="translate(321.26,573.63) scale(0.0874,0.0778)" font-size="100" font-weight="bold" fill="rgb(232,178,36)">G</text>
<text transform="translate(326.94,579.17) scale(0.0902,0.0311)" font-size="100" font-weight="bold" fill="rgb(48,48,150)">C</text>
<text transform="translate(327.20,577.00) scale(0.1002,0.0320)" font-size="100" font-weight="bold" fill="rgb(184,24,36)">T</text>
<text transform="translate(326.95,574.72) scale(0.0874,0.0934)" font-size="100" font-weight="bold" fill="rgb(232,178,36)">G</text>
<text transform="translate(275.69,593.20) scale(0.1007,0.1599)" font-size="100" font-weight="bold" fill="rgb(184,24,36)">T</text>
<text transform="translate(281.16,593.17) scale(0.0878,0.0311)" font-size="100" font-weight="bold" fill="rgb(232,178,36)">G</text>
<text transform="translate(281.41,591.00) scale(0.1007,0.1279)" font-size="100" font-weight="bold" fill="rgb(184,24,36)">T</text>
<text transform="translate(286.88,593.19) scale(0.0878,0.0156)" font-size="100" font-weight="bold" fill="rgb(232,178,36)">G</text>
<text transform="translate(287.13,592.10) scale(0.1007,0.0320)" font-size="100" font-weight="bold" fill="rgb(184,24,36)">T</text>
<text transform="translate(286.87,589.80) scale(0.0907,0.1089)" font-size="100" font-weight="bold" fill="rgb(48,48,150)">C</text>
<text transform="translate(292.74,593.20) scale(0.0884,0.0160)" font-size="100" font-weight="bold" fill="rgb(96,172,64)">A</text>
<text transform="translate(292.59,592.07) scale(0.0907,0.0311)" font-size="100" font-weight="bold" fill="rgb(48,48,150)">C</text>
<text transform="translate(292.85,589.90) scale(0.1007,0.1119)" font-size="100" font-weight="bold" fill="rgb(184,24,36)">T</text>
<text transform="translate(298.31,593.17) scale(0.0907,0.0311)" font-size="100" font-weight="bold" fill="rgb(48,48,150)">C</text>
<text transform="translate(298.32,590.99) scale(0.0878,0.0156)" font-size="100" font-weight="bold" fill="rgb(232,178,36)">G</text>
<text transform="translate(298.57,589.90) scale(0.1007,0.1119)" font-size="100" font-weight="bold" fill="rgb(184,24,36)">T</text>
<text transform="translate(304.18,593.20) scale(0.0884,0.0160)" font-size="100" font-weight="bold" fill="rgb(96,172,64)">A</text>
<text transform="translate(304.03,592.07) scale(0.0907,0.0311)" font-size="100" font-weight="bold" fill="rgb(48,48,150)">C</text>
<text transform="translate(304.29,589.90) scale(0.1007,0.1119)" font-size="100" font-weight="bold" fill="rgb(184,24,36)">T</text>
<text transform="translate(310.01,593.20) scale(0.1007,0.0160)" font-size="100" font-weight="bold" fill="rgb(184,24,36)">T</text>
<text transform="translate(309.75,592.07) scale(0.0907,0.0311)" font-size="100" font-weight="bold" fill="rgb(48,48,150)">C</text>
<text transform="translate(309.90,589.90) scale(0.0884,0.1119)" font-size="100" font-weight="bold" fill="rgb(96,172,64)">A</text>
<text transform="translate(315.73,593.20) scale(0.1007,0.0160)" font-size="100" font-weight="bold" fill="rgb(184,24,36)">T</text>
<text transform="translate(315.47,592.07) scale(0.0907,0.0311)" font-size="100" font-weight="bold" fill="rgb(48,48,150)">C</text>
<text transform="translate(315.62,589.90) scale(0.0884,0.1119)" font-size="100" font-weight="bold" fill="rgb(96,172,64)">A</text>
<text transform="translate(321.19,593.17) scale(0.0907,0.0311)" font-size="100" font-weight="bold" fill="rgb(48,48,150)">C</text>
<text transform="translate(321.34,591.00) scale(0.0884,0.1279)" font-size="100" font-weight="bold" fill="rgb(96,172,64)">A</text>
<text transform="translate(326.91,593.19) scale(0.0907,0.0156)" font-size="100" font-weight="bold" fill="rgb(48,48,150)">C</text>
<text transform="translate(327.06,592.10) scale(0.0884,0.1439)" font-size="100" font-weight="bold" fill="rgb(96,172,64)">A</text>
<text transform="translate(275.44,606.97) scale(0.0878,0.1457)" font-size="100" font-weight="bold" fill="rgb(232,178,36)">G</text>
<text transform="translate(281.16,606.97) scale(0.0878,0.1457)" font-size="100" font-weight="bold" fill="rgb(232,178,36)">G</text>
<text transform="translate(286.87,607.07) scale(0.0907,0.0291)" font-size="100" font-weight="bold" fill="rgb(48,48,150)">C</text>
<text transform="translate(287.02,605.04) scale(0.0884,0.1198)" font-size="100" font-weight="bold" fill="rgb(96,172,64)">A</text>
<text transform="translate(292.74,607.10) scale(0.0884,0.1497)" font-size="100" font-weight="bold" fill="rgb(96,172,64)">A</text>
<text transform="translate(298.31,606.97) scale(0.0907,0.1457)" font-size="100" font-weight="bold" fill="rgb(48,48,150)">C</text>
<text transform="translate(304.18,607.10) scale(0.0884,0.1497)" font-size="100" font-weight="bold" fill="rgb(96,172,64)">A</text>
<text transform="translate(309.75,606.97) scale(0.0907,0.1457)" font-size="100" font-weight="bold" fill="rgb(48,48,150)">C</text>
<text transform="translate(315.47,606.97) scale(0.0907,0.1457)" font-size="100" font-weight="bold" fill="rgb(48,48,150)">C</text>
<text transform="translate(321.19,607.09) scale(0.0907,0.0146)" font-size="100" font-weight="bold" fill="rgb(48,48,150)">C</text>
<text transform="translate(321.34,606.07) scale(0.0884,0.1347)" font-size="100" font-weight="bold" fill="rgb(96,172,64)">A</text>
<text transform="translate(326.91,606.97) scale(0.0907,0.1457)" font-size="100" font-weight="bold" fill="rgb(48,48,150)">C</text>
<text transform="translate(276.93,622.45) scale(0.0900,0.1612)" font-size="100" font-weight="bold" fill="rgb(48,48,150)">C</text>
<text transform="translate(282.62,622.56) scale(0.0872,0.0484)" font-size="100" font-weight="bold" fill="rgb(232,178,36)">G</text>
<text transform="translate(282.87,619.18) scale(0.0999,0.1160)" font-size="100" font-weight="bold" fill="rgb(184,24,36)">T</text>
<text transform="translate(288.29,622.45) scale(0.0872,0.1612)" font-size="100" font-weight="bold" fill="rgb(232,178,36)">G</text>
<text transform="translate(293.97,622.56) scale(0.0872,0.0484)" font-size="100" font-weight="bold" fill="rgb(232,178,36)">G</text>
<text transform="translate(294.22,619.18) scale(0.0999,0.1160)" font-size="100" font-weight="bold" fill="rgb(184,24,36)">T</text>
<text transform="translate(299.63,622.45) scale(0.0900,0.1612)" font-size="100" font-weight="bold" fill="rgb(48,48,150)">C</text>
<text transform="translate(305.32,622.45) scale(0.0872,0.1612)" font-size="100" font-weight="bold" fill="rgb(232,178,36)">G</text>
<text transform="translate(310.99,622.45) scale(0.0872,0.1612)" font-size="100" font-weight="bold" fill="rgb(232,178,36)">G</text>
<text transform="translate(316.67,622.45) scale(0.0872,0.1612)" font-size="100" font-weight="bold" fill="rgb(232,178,36)">G</text>
<text transform="translate(276.94,637.05) scale(0.0875,0.1612)" font-size="100" font-weight="bold" fill="rgb(232,178,36)">G</text>
<text transform="translate(282.78,637.20) scale(0.0881,0.1657)" font-size="100" font-weight="bold" fill="rgb(96,172,64)">A</text>
<text transform="translate(288.33,637.17) scale(0.0904,0.0322)" font-size="100" font-weight="bold" fill="rgb(48,48,150)">C</text>
<text transform="translate(288.48,634.92) scale(0.0881,0.0331)" font-size="100" font-weight="bold" fill="rgb(96,172,64)">A</text>
<text transform="translate(288.34,632.55) scale(0.0875,0.0967)" font-size="100" font-weight="bold" fill="rgb(232,178,36)">G</text>
<text transform="translate(294.04,637.05) scale(0.0875,0.1612)" font-size="100" font-weight="bold" fill="rgb(232,178,36)">G</text>
<text transform="translate(299.88,637.20) scale(0.0881,0.0166)" font-size="100" font-weight="bold" fill="rgb(96,172,64)">A</text>
<text transform="translate(299.73,636.05) scale(0.0904,0.0161)" font-size="100" font-weight="bold" fill="rgb(48,48,150)">C</text>
<text transform="translate(299.74,634.80) scale(0.0875,0.1290)" font-size="100" font-weight="bold" fill="rgb(232,178,36)">G</text>
<text transform="translate(305.44,637.05) scale(0.0875,0.1612)" font-size="100" font-weight="bold" fill="rgb(232,178,36)">G</text>
<text transform="translate(311.28,637.20) scale(0.0881,0.0663)" font-size="100" font-weight="bold" fill="rgb(96,172,64)">A</text>
<text transform="translate(311.13,632.55) scale(0.0904,0.0967)" font-size="100" font-weight="bold" fill="rgb(48,48,150)">C</text>
<text transform="translate(316.98,637.20) scale(0.0881,0.1657)" font-size="100" font-weight="bold" fill="rgb(96,172,64)">A</text>
<text transform="translate(322.54,637.05) scale(0.0875,0.1612)" font-size="100" font-weight="bold" fill="rgb(232,178,36)">G</text>
<text transform="translate(328.38,637.20) scale(0.0881,0.1657)" font-size="100" font-weight="bold" fill="rgb(96,172,64)">A</text>
<text transform="translate(333.94,637.05) scale(0.0875,0.1612)" font-size="100" font-weight="bold" fill="rgb(232,178,36)">G</text>
<text transform="translate(339.89,637.20) scale(0.1003,0.0331)" font-size="100" font-weight="bold" fill="rgb(184,24,36)">T</text>
<text transform="translate(339.64,634.88) scale(0.0875,0.0484)" font-size="100" font-weight="bold" fill="rgb(232,178,36)">G</text>
<text transform="translate(339.63,631.43) scale(0.0904,0.0806)" font-size="100" font-weight="bold" fill="rgb(48,48,150)">C</text>
<text transform="translate(277.19,651.70) scale(0.1002,0.1657)" font-size="100" font-weight="bold" fill="rgb(184,24,36)">T</text>
<text transform="translate(282.77,651.70) scale(0.0879,0.1657)" font-size="100" font-weight="bold" fill="rgb(96,172,64)">A</text>
<text transform="translate(288.32,651.66) scale(0.0874,0.0484)" font-size="100" font-weight="bold" fill="rgb(232,178,36)">G</text>
<text transform="translate(288.46,648.28) scale(0.0879,0.1160)" font-size="100" font-weight="bold" fill="rgb(96,172,64)">A</text>
<text transform="translate(294.00,651.55) scale(0.0902,0.1612)" font-size="100" font-weight="bold" fill="rgb(48,48,150)">C</text>
<text transform="translate(299.70,651.55) scale(0.0874,0.1612)" font-size="100" font-weight="bold" fill="rgb(232,178,36)">G</text>
<text transform="translate(305.39,651.64) scale(0.0874,0.0645)" font-size="100" font-weight="bold" fill="rgb(232,178,36)">G</text>
<text transform="translate(305.53,647.14) scale(0.0879,0.0994)" font-size="100" font-weight="bold" fill="rgb(96,172,64)">A</text>
<text transform="translate(311.33,651.70) scale(0.1002,0.1160)" font-size="100" font-weight="bold" fill="rgb(184,24,36)">T</text>
<text transform="translate(311.08,643.68) scale(0.0874,0.0484)" font-size="100" font-weight="bold" fill="rgb(232,178,36)">G</text>
<text transform="translate(317.02,651.70) scale(0.1002,0.1657)" font-size="100" font-weight="bold" fill="rgb(184,24,36)">T</text>
<text transform="translate(322.71,651.70) scale(0.1002,0.0497)" font-size="100" font-weight="bold" fill="rgb(184,24,36)">T</text>
<text transform="translate(322.60,648.28) scale(0.0879,0.1160)" font-size="100" font-weight="bold" fill="rgb(96,172,64)">A</text>
<text transform="translate(328.29,651.70) scale(0.0879,0.1657)" font-size="100" font-weight="bold" fill="rgb(96,172,64)">A</text>
</svg>
</body></html>
